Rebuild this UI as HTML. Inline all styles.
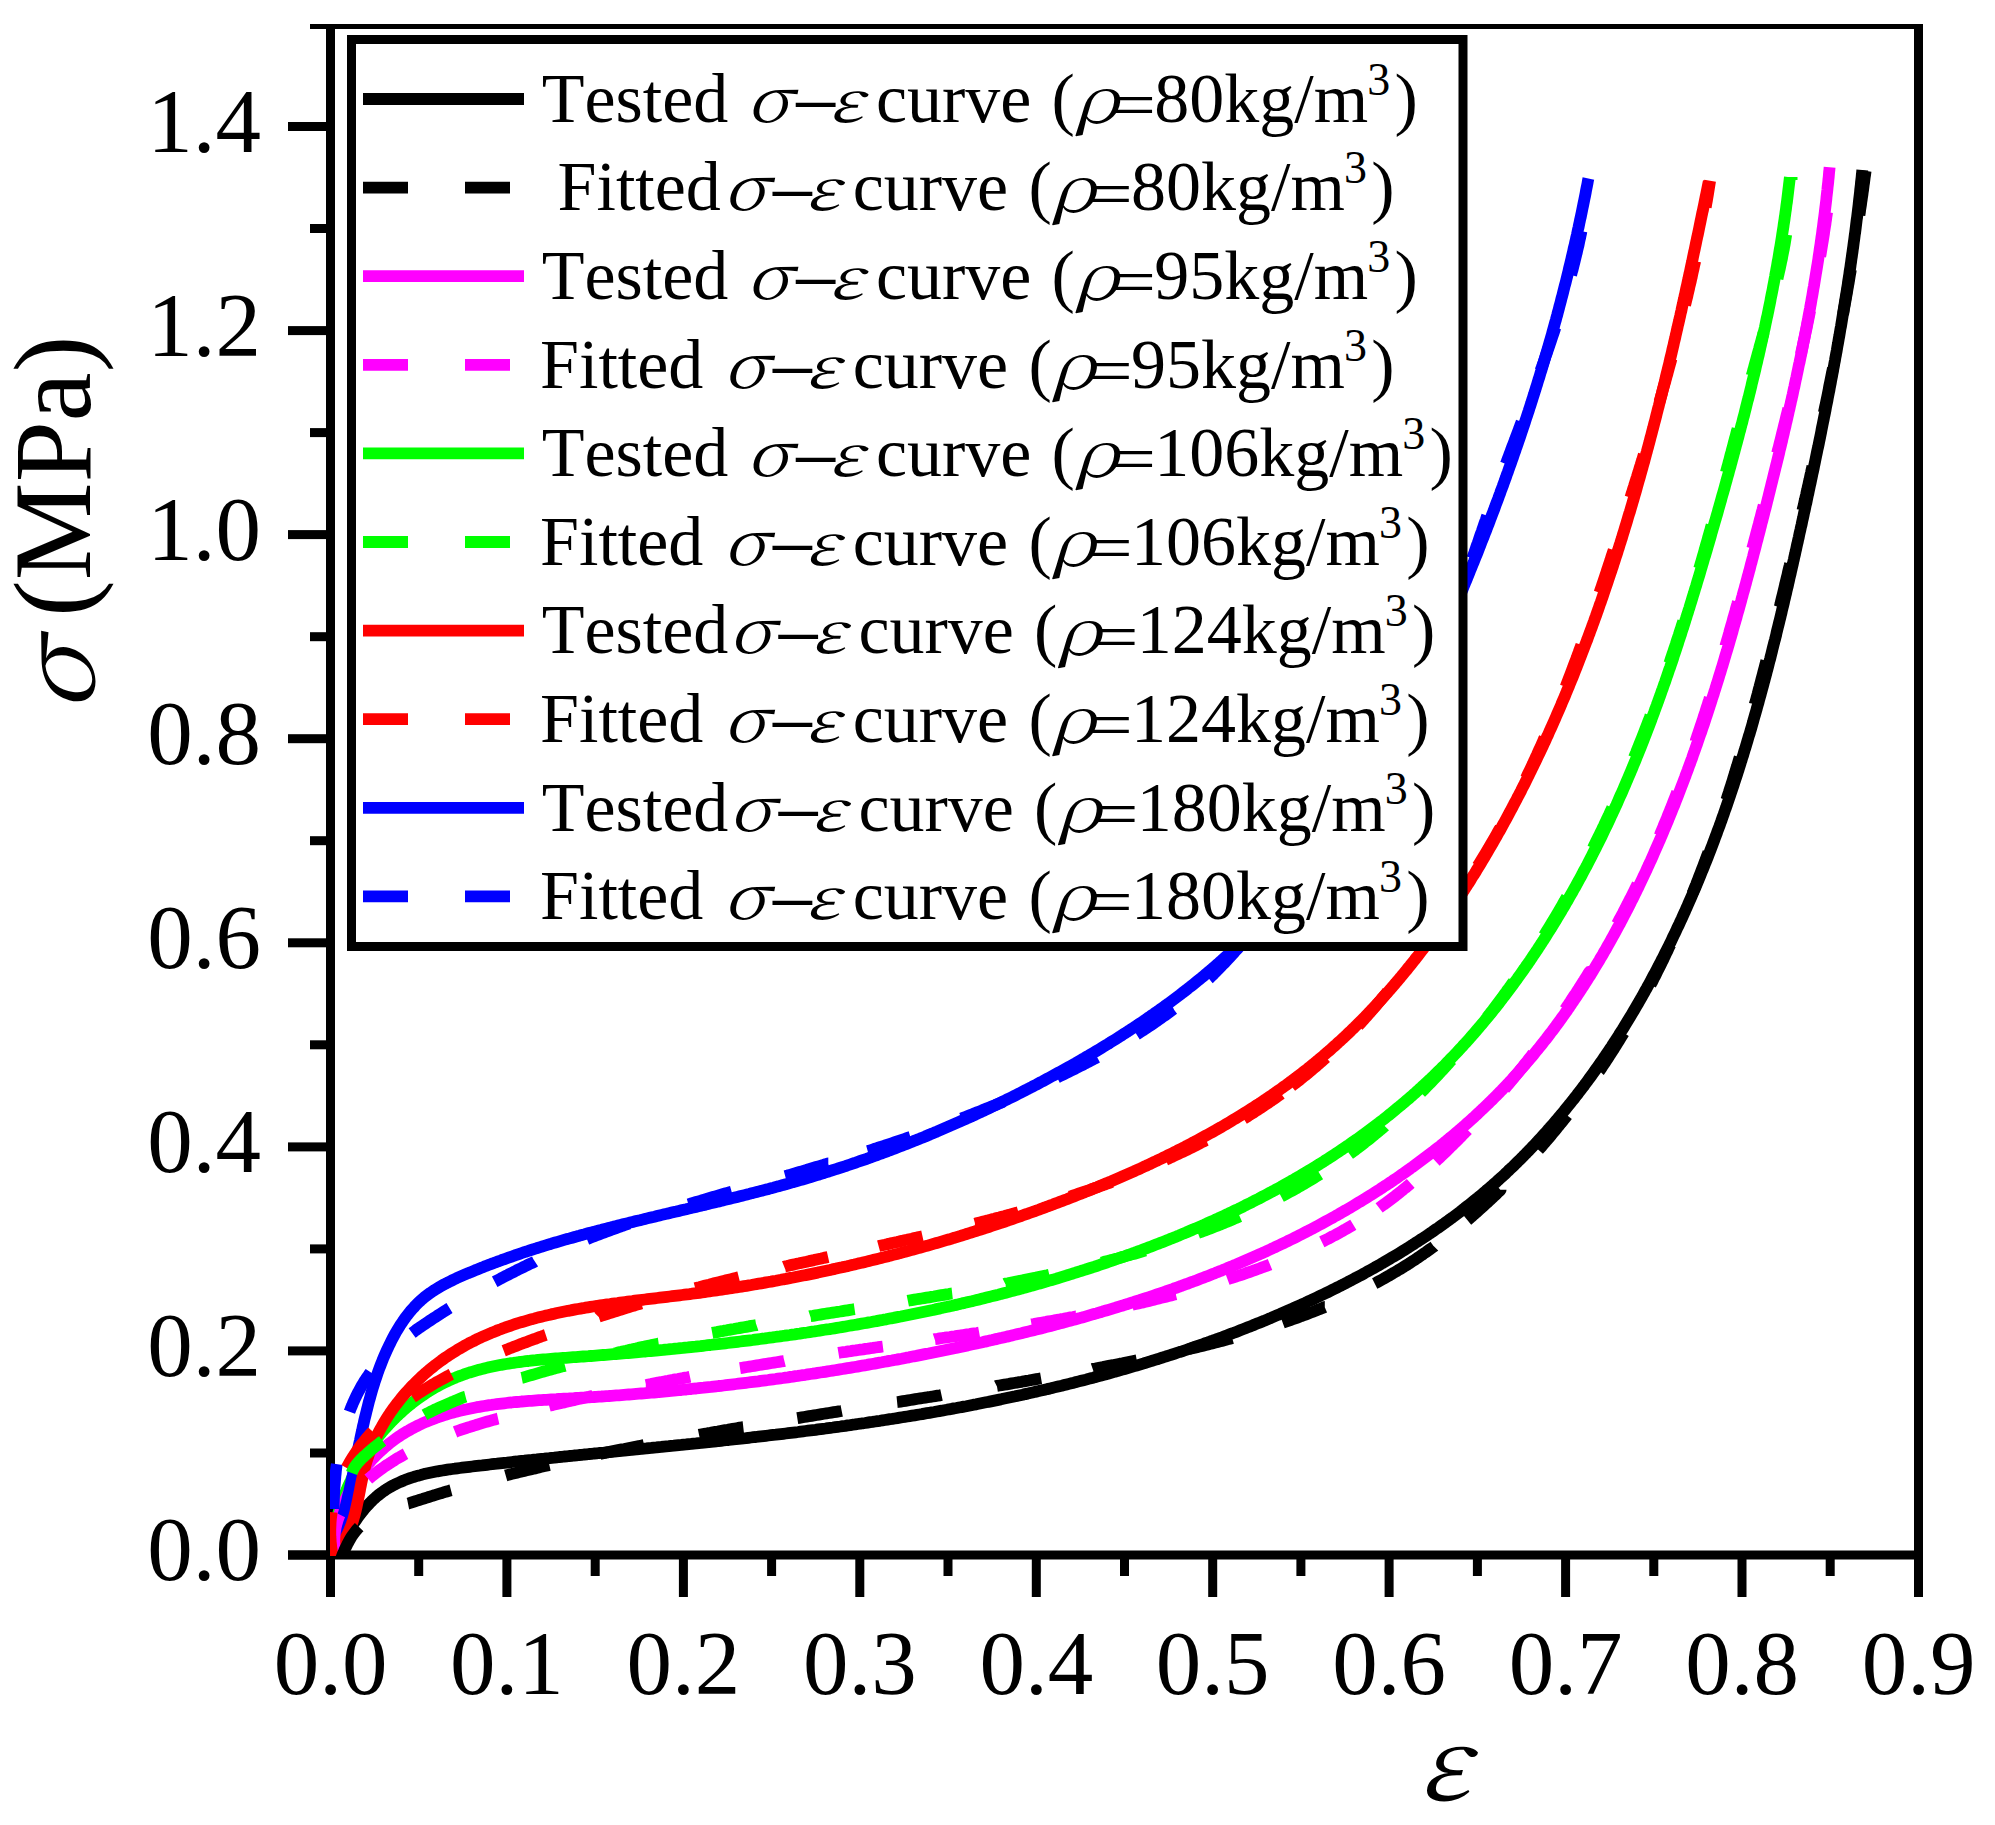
<!DOCTYPE html><html><head><meta charset="utf-8"><title>stress-strain</title><style>html,body{margin:0;padding:0;background:#fff;}svg{display:block}text{font-kerning:none;}</style></head><body>
<svg width="1995" height="1825" viewBox="0 0 1995 1825">
<rect width="1995" height="1825" fill="#fff"/>
<defs><clipPath id="pa"><rect x="330" y="24" width="1590" height="1532"/></clipPath></defs>
<g fill="#000">
<rect x="310" y="24" width="1613" height="5"/>
<rect x="326" y="24" width="9" height="1573"/>
<rect x="1914" y="24" width="9" height="1535.5"/>
<rect x="288" y="1550.5" width="1635" height="9"/>
<rect x="288" y="1550.5" width="38" height="9"/>
<rect x="310" y="1448.5" width="16" height="9"/>
<rect x="288" y="1346.4" width="38" height="9"/>
<rect x="310" y="1244.4" width="16" height="9"/>
<rect x="288" y="1142.4" width="38" height="9"/>
<rect x="310" y="1040.3" width="16" height="9"/>
<rect x="288" y="938.3" width="38" height="9"/>
<rect x="310" y="836.2" width="16" height="9"/>
<rect x="288" y="734.2" width="38" height="9"/>
<rect x="310" y="632.2" width="16" height="9"/>
<rect x="288" y="530.1" width="38" height="9"/>
<rect x="310" y="428.1" width="16" height="9"/>
<rect x="288" y="326.1" width="38" height="9"/>
<rect x="310" y="224.0" width="16" height="9"/>
<rect x="288" y="122.0" width="38" height="9"/>
<rect x="326.0" y="1555" width="9" height="42"/>
<rect x="414.2" y="1555" width="9" height="21"/>
<rect x="502.4" y="1555" width="9" height="42"/>
<rect x="590.7" y="1555" width="9" height="21"/>
<rect x="678.9" y="1555" width="9" height="42"/>
<rect x="767.1" y="1555" width="9" height="21"/>
<rect x="855.3" y="1555" width="9" height="42"/>
<rect x="943.5" y="1555" width="9" height="21"/>
<rect x="1031.8" y="1555" width="9" height="42"/>
<rect x="1120.0" y="1555" width="9" height="21"/>
<rect x="1208.2" y="1555" width="9" height="42"/>
<rect x="1296.4" y="1555" width="9" height="21"/>
<rect x="1384.6" y="1555" width="9" height="42"/>
<rect x="1472.9" y="1555" width="9" height="21"/>
<rect x="1561.1" y="1555" width="9" height="42"/>
<rect x="1649.3" y="1555" width="9" height="21"/>
<rect x="1737.5" y="1555" width="9" height="42"/>
<rect x="1825.7" y="1555" width="9" height="21"/>
<rect x="1914.0" y="1555" width="9" height="42"/>
</g>
<g clip-path="url(#pa)" fill="none" stroke-width="11.8" stroke-linejoin="round" stroke-linecap="butt">
<path stroke="#000000" d="M332.9 1558.2L334.2 1556.0L335.4 1553.9L336.6 1551.7L337.9 1549.5L339.1 1547.3L340.4 1545.2L341.6 1543.0L342.9 1540.8L344.1 1538.7L345.4 1536.5L346.7 1534.4L348.0 1532.2L349.3 1530.1L350.7 1528.0L352.0 1525.9L353.4 1523.8L354.8 1521.8L356.3 1519.7L357.7 1517.7L359.2 1515.6L360.7 1513.7L362.2 1511.7L363.8 1509.7L365.4 1507.8L367.1 1505.9L368.8 1504.1L370.5 1502.3L372.3 1500.5L374.1 1498.8L376.0 1497.1L377.9 1495.5L379.8 1494.0L381.8 1492.5L383.9 1491.0L386.0 1489.6L388.1 1488.3L390.2 1487.0L392.4 1485.8L394.6 1484.6L396.9 1483.5L399.1 1482.5L401.4 1481.5L403.7 1480.5L406.1 1479.6L408.4 1478.7L410.8 1477.9L413.2 1477.2L415.6 1476.4L418.0 1475.7L420.4 1475.1L422.8 1474.4L425.2 1473.8L427.7 1473.3L430.1 1472.8L432.6 1472.3L435.0 1471.8L437.5 1471.3L440.0 1470.9L442.4 1470.5L444.9 1470.1L447.4 1469.7L449.8 1469.3L452.3 1469.0L454.8 1468.7L457.3 1468.3L459.8 1468.0L462.2 1467.7L464.7 1467.4L467.2 1467.1L469.7 1466.8L472.2 1466.5L474.7 1466.2L477.2 1465.9L479.6 1465.6L482.1 1465.4L484.6 1465.1L487.1 1464.8L489.6 1464.5L492.1 1464.2L494.6 1463.9L497.0 1463.7L499.5 1463.4L502.0 1463.1L504.5 1462.8L507.0 1462.6L509.5 1462.3L512.0 1462.0L514.5 1461.7L516.9 1461.5L519.4 1461.2L521.9 1460.9L524.4 1460.7L526.9 1460.4L529.4 1460.1L531.9 1459.9L534.4 1459.6L536.8 1459.4L539.3 1459.1L541.8 1458.8L544.3 1458.6L546.8 1458.3L549.3 1458.1L551.8 1457.8L554.3 1457.6L556.8 1457.3L559.3 1457.0L561.7 1456.8L564.2 1456.5L566.7 1456.3L569.2 1456.0L571.7 1455.8L574.2 1455.5L576.7 1455.3L579.2 1455.0L581.7 1454.8L584.1 1454.5L586.6 1454.3L589.1 1454.0L591.6 1453.8L594.1 1453.5L596.6 1453.3L599.1 1453.0L601.6 1452.8L604.1 1452.6L606.6 1452.3L609.0 1452.1L611.5 1451.8L614.0 1451.6L616.5 1451.3L619.0 1451.1L621.5 1450.8L624.0 1450.6L626.5 1450.3L629.0 1450.1L631.5 1449.9L634.0 1449.6L636.4 1449.4L638.9 1449.1L641.4 1448.9L643.9 1448.6L646.4 1448.4L648.9 1448.1L651.4 1447.9L653.9 1447.6L656.4 1447.4L658.9 1447.1L661.3 1446.9L663.8 1446.6L666.3 1446.4L668.8 1446.2L671.3 1445.9L673.8 1445.7L676.3 1445.4L678.8 1445.1L681.3 1444.9L683.8 1444.6L686.2 1444.4L688.7 1444.1L691.2 1443.9L693.7 1443.6L696.2 1443.4L698.7 1443.1L701.2 1442.9L703.7 1442.6L706.2 1442.3L708.6 1442.1L711.1 1441.8L713.6 1441.6L716.1 1441.3L718.6 1441.0L721.1 1440.8L723.6 1440.5L726.1 1440.2L728.6 1440.0L731.0 1439.7L733.5 1439.4L736.0 1439.2L738.5 1438.9L741.0 1438.6L743.5 1438.3L746.0 1438.1L748.5 1437.8L750.9 1437.5L753.4 1437.2L755.9 1437.0L758.4 1436.7L760.9 1436.4L763.4 1436.1L765.9 1435.8L768.3 1435.5L770.8 1435.2L773.3 1434.9L775.8 1434.7L778.3 1434.4L780.8 1434.1L783.3 1433.8L785.7 1433.5L788.2 1433.2L790.7 1432.9L793.2 1432.6L795.7 1432.3L798.2 1432.0L800.6 1431.6L803.1 1431.3L805.6 1431.0L808.1 1430.7L810.6 1430.4L813.1 1430.1L815.5 1429.8L818.0 1429.4L820.5 1429.1L823.0 1428.8L825.5 1428.5L827.9 1428.1L830.4 1427.8L832.9 1427.5L835.4 1427.1L837.9 1426.8L840.3 1426.5L842.8 1426.1L845.3 1425.8L847.8 1425.4L850.3 1425.1L852.7 1424.7L855.2 1424.4L857.7 1424.0L860.2 1423.7L862.6 1423.3L865.1 1423.0L867.6 1422.6L870.1 1422.2L872.5 1421.9L875.0 1421.5L877.5 1421.1L880.0 1420.8L882.4 1420.4L884.9 1420.0L887.4 1419.6L889.9 1419.2L892.3 1418.9L894.8 1418.5L897.3 1418.1L899.8 1417.7L902.2 1417.3L904.7 1416.9L907.2 1416.5L909.6 1416.1L912.1 1415.7L914.6 1415.3L917.0 1414.9L919.5 1414.5L922.0 1414.1L924.4 1413.6L926.9 1413.2L929.4 1412.8L931.8 1412.4L934.3 1412.0L936.8 1411.5L939.2 1411.1L941.7 1410.7L944.2 1410.2L946.6 1409.8L949.1 1409.3L951.6 1408.9L954.0 1408.4L956.5 1408.0L958.9 1407.5L961.4 1407.1L963.9 1406.6L966.3 1406.2L968.8 1405.7L971.2 1405.2L973.7 1404.7L976.2 1404.3L978.6 1403.8L981.1 1403.3L983.5 1402.8L986.0 1402.3L988.4 1401.9L990.9 1401.4L993.3 1400.9L995.8 1400.4L998.2 1399.9L1000.7 1399.4L1003.1 1398.8L1005.6 1398.3L1008.0 1397.8L1010.5 1397.3L1012.9 1396.8L1015.4 1396.3L1017.8 1395.7L1020.3 1395.2L1022.7 1394.7L1025.2 1394.1L1027.6 1393.6L1030.0 1393.0L1032.5 1392.5L1034.9 1391.9L1037.4 1391.4L1039.8 1390.8L1042.2 1390.3L1044.7 1389.7L1047.1 1389.1L1049.6 1388.6L1052.0 1388.0L1054.4 1387.4L1056.9 1386.8L1059.3 1386.2L1061.7 1385.7L1064.2 1385.1L1066.6 1384.5L1069.0 1383.9L1071.4 1383.3L1073.9 1382.7L1076.3 1382.0L1078.7 1381.4L1081.1 1380.8L1083.6 1380.2L1086.0 1379.6L1088.4 1378.9L1090.8 1378.3L1093.3 1377.7L1095.7 1377.0L1098.1 1376.4L1100.5 1375.7L1102.9 1375.1L1105.3 1374.4L1107.8 1373.8L1110.2 1373.1L1112.6 1372.4L1115.0 1371.7L1117.4 1371.1L1119.8 1370.4L1122.2 1369.7L1124.6 1369.0L1127.0 1368.3L1129.4 1367.6L1131.8 1366.9L1134.2 1366.2L1136.6 1365.5L1139.0 1364.8L1141.4 1364.1L1143.8 1363.4L1146.2 1362.6L1148.6 1361.9L1151.0 1361.2L1153.4 1360.4L1155.8 1359.7L1158.2 1359.0L1160.6 1358.2L1162.9 1357.4L1165.3 1356.7L1167.7 1355.9L1170.1 1355.2L1172.5 1354.4L1174.9 1353.6L1177.2 1352.8L1179.6 1352.0L1182.0 1351.3L1184.4 1350.5L1186.7 1349.7L1189.1 1348.9L1191.5 1348.1L1193.8 1347.2L1196.2 1346.4L1198.6 1345.6L1200.9 1344.8L1203.3 1344.0L1205.6 1343.1L1208.0 1342.3L1210.4 1341.4L1212.7 1340.6L1215.1 1339.7L1217.4 1338.9L1219.8 1338.0L1222.1 1337.2L1224.5 1336.3L1226.8 1335.4L1229.1 1334.5L1231.5 1333.6L1233.8 1332.8L1236.2 1331.9L1238.5 1331.0L1240.8 1330.1L1243.2 1329.1L1245.5 1328.2L1247.8 1327.3L1250.1 1326.4L1252.5 1325.5L1254.8 1324.5L1257.1 1323.6L1259.4 1322.7L1261.8 1321.7L1264.1 1320.8L1266.4 1319.8L1268.7 1318.8L1271.0 1317.9L1273.3 1316.9L1275.6 1315.9L1277.9 1314.9L1280.2 1314.0L1282.5 1313.0L1284.8 1312.0L1287.1 1311.0L1289.4 1310.0L1291.7 1309.0L1294.0 1307.9L1296.2 1306.9L1298.5 1305.9L1300.8 1304.9L1303.1 1303.8L1305.4 1302.8L1307.6 1301.7L1309.9 1300.7L1312.2 1299.6L1314.4 1298.6L1316.7 1297.5L1319.0 1296.4L1321.2 1295.3L1323.5 1294.2L1325.7 1293.2L1328.0 1292.1L1330.2 1291.0L1332.5 1289.8L1334.7 1288.7L1336.9 1287.6L1339.2 1286.5L1341.4 1285.4L1343.6 1284.2L1345.9 1283.1L1348.1 1281.9L1350.3 1280.8L1352.5 1279.6L1354.7 1278.4L1356.9 1277.3L1359.1 1276.1L1361.4 1274.9L1363.6 1273.7L1365.7 1272.5L1367.9 1271.3L1370.1 1270.1L1372.3 1268.9L1374.5 1267.7L1376.7 1266.4L1378.9 1265.2L1381.0 1263.9L1383.2 1262.7L1385.4 1261.4L1387.5 1260.2L1389.7 1258.9L1391.8 1257.6L1394.0 1256.3L1396.1 1255.1L1398.3 1253.8L1400.4 1252.5L1402.5 1251.1L1404.7 1249.8L1406.8 1248.5L1408.9 1247.2L1411.0 1245.8L1413.1 1244.5L1415.2 1243.1L1417.3 1241.8L1419.4 1240.4L1421.5 1239.0L1423.6 1237.7L1425.7 1236.3L1427.8 1234.9L1429.8 1233.5L1431.9 1232.1L1434.0 1230.6L1436.0 1229.2L1438.1 1227.8L1440.1 1226.4L1442.2 1224.9L1444.2 1223.5L1446.2 1222.0L1448.3 1220.5L1450.3 1219.0L1452.3 1217.6L1454.3 1216.1L1456.3 1214.6L1458.3 1213.1L1460.3 1211.6L1462.3 1210.0L1464.3 1208.5L1466.2 1207.0L1468.2 1205.4L1470.2 1203.9L1472.1 1202.3L1474.1 1200.7L1476.0 1199.2L1478.0 1197.6L1479.9 1196.0L1481.8 1194.4L1483.7 1192.8L1485.6 1191.2L1487.5 1189.5L1489.4 1187.9L1491.3 1186.3L1493.2 1184.6L1495.1 1183.0L1497.0 1181.3L1498.8 1179.6L1500.7 1177.9L1502.5 1176.3L1504.4 1174.6L1506.2 1172.9L1508.0 1171.1L1509.8 1169.4L1511.7 1167.7L1513.5 1166.0L1515.3 1164.2L1517.0 1162.5L1518.8 1160.7L1520.6 1159.0L1522.4 1157.2L1524.1 1155.4L1525.9 1153.6L1527.6 1151.8L1529.4 1150.0L1531.1 1148.2L1532.8 1146.4L1534.6 1144.6L1536.3 1142.8L1538.0 1140.9L1539.7 1139.1L1541.4 1137.3L1543.0 1135.4L1544.7 1133.5L1546.4 1131.7L1548.0 1129.8L1549.7 1127.9L1551.3 1126.0L1553.0 1124.2L1554.6 1122.3L1556.2 1120.4L1557.9 1118.5L1559.5 1116.5L1561.1 1114.6L1562.7 1112.7L1564.3 1110.8L1565.9 1108.8L1567.4 1106.9L1569.0 1104.9L1570.6 1103.0L1572.1 1101.0L1573.7 1099.1L1575.2 1097.1L1576.8 1095.1L1578.3 1093.1L1579.8 1091.2L1581.3 1089.2L1582.8 1087.2L1584.4 1085.2L1585.8 1083.2L1587.3 1081.2L1588.8 1079.1L1590.3 1077.1L1591.8 1075.1L1593.2 1073.1L1594.7 1071.0L1596.1 1069.0L1597.6 1066.9L1599.0 1064.9L1600.4 1062.8L1601.9 1060.8L1603.3 1058.7L1604.7 1056.7L1606.1 1054.6L1607.5 1052.5L1608.9 1050.4L1610.3 1048.3L1611.7 1046.3L1613.0 1044.2L1614.4 1042.1L1615.8 1040.0L1617.1 1037.9L1618.5 1035.8L1619.8 1033.6L1621.1 1031.5L1622.5 1029.4L1623.8 1027.3L1625.1 1025.2L1626.4 1023.0L1627.7 1020.9L1629.0 1018.7L1630.3 1016.6L1631.6 1014.5L1632.9 1012.3L1634.1 1010.2L1635.4 1008.0L1636.7 1005.8L1637.9 1003.7L1639.2 1001.5L1640.4 999.3L1641.7 997.2L1642.9 995.0L1644.1 992.8L1645.3 990.6L1646.6 988.4L1647.8 986.2L1649.0 984.0L1650.2 981.8L1651.4 979.6L1652.5 977.4L1653.7 975.2L1654.9 973.0L1656.1 970.8L1657.2 968.6L1658.4 966.4L1659.5 964.2L1660.7 961.9L1661.8 959.7L1663.0 957.5L1664.1 955.2L1665.2 953.0L1666.3 950.8L1667.5 948.5L1668.6 946.3L1669.7 944.0L1670.8 941.8L1671.9 939.5L1672.9 937.3L1674.0 935.0L1675.1 932.8L1676.2 930.5L1677.2 928.2L1678.3 926.0L1679.4 923.7L1680.4 921.4L1681.5 919.2L1682.5 916.9L1683.5 914.6L1684.6 912.3L1685.6 910.0L1686.6 907.8L1687.6 905.5L1688.6 903.2L1689.6 900.9L1690.6 898.6L1691.6 896.3L1692.6 894.0L1693.6 891.7L1694.6 889.4L1695.6 887.1L1696.5 884.8L1697.5 882.5L1698.5 880.2L1699.4 877.9L1700.4 875.5L1701.3 873.2L1702.2 870.9L1703.2 868.6L1704.1 866.3L1705.0 863.9L1706.0 861.6L1706.9 859.3L1707.8 857.0L1708.7 854.6L1709.6 852.3L1710.5 850.0L1711.4 847.6L1712.3 845.3L1713.2 842.9L1714.1 840.6L1714.9 838.3L1715.8 835.9L1716.7 833.6L1717.5 831.2L1718.4 828.9L1719.3 826.5L1720.1 824.2L1721.0 821.8L1721.8 819.5L1722.6 817.1L1723.5 814.7L1724.3 812.4L1725.1 810.0L1726.0 807.6L1726.8 805.3L1727.6 802.9L1728.4 800.6L1729.2 798.2L1730.0 795.8L1730.8 793.4L1731.6 791.1L1732.4 788.7L1733.2 786.3L1734.0 783.9L1734.7 781.6L1735.5 779.2L1736.3 776.8L1737.1 774.4L1737.8 772.0L1738.6 769.7L1739.3 767.3L1740.1 764.9L1740.8 762.5L1741.6 760.1L1742.3 757.7L1743.1 755.3L1743.8 752.9L1744.5 750.5L1745.3 748.1L1746.0 745.8L1746.7 743.4L1747.4 741.0L1748.1 738.6L1748.8 736.2L1749.6 733.8L1750.3 731.4L1751.0 729.0L1751.7 726.6L1752.4 724.2L1753.1 721.7L1753.7 719.3L1754.4 716.9L1755.1 714.5L1755.8 712.1L1756.5 709.7L1757.1 707.3L1757.8 704.9L1758.5 702.5L1759.1 700.1L1759.8 697.7L1760.5 695.2L1761.1 692.8L1761.8 690.4L1762.4 688.0L1763.1 685.6L1763.7 683.2L1764.4 680.7L1765.0 678.3L1765.7 675.9L1766.3 673.5L1766.9 671.1L1767.6 668.6L1768.2 666.2L1768.8 663.8L1769.4 661.4L1770.1 659.0L1770.7 656.5L1771.3 654.1L1771.9 651.7L1772.5 649.2L1773.1 646.8L1773.7 644.4L1774.3 642.0L1775.0 639.5L1775.6 637.1L1776.2 634.7L1776.7 632.2L1777.3 629.8L1777.9 627.4L1778.5 625.0L1779.1 622.5L1779.7 620.1L1780.3 617.7L1780.9 615.2L1781.5 612.8L1782.0 610.4L1782.6 607.9L1783.2 605.5L1783.8 603.1L1784.3 600.6L1784.9 598.2L1785.5 595.7L1786.1 593.3L1786.6 590.9L1787.2 588.4L1787.8 586.0L1788.3 583.6L1788.9 581.1L1789.4 578.7L1790.0 576.2L1790.6 573.8L1791.1 571.4L1791.7 568.9L1792.2 566.5L1792.8 564.0L1793.3 561.6L1793.9 559.2L1794.4 556.7L1795.0 554.3L1795.5 551.8L1796.1 549.4L1796.6 546.9L1797.1 544.5L1797.7 542.1L1798.2 539.6L1798.8 537.2L1799.3 534.7L1799.8 532.3L1800.4 529.8L1800.9 527.4L1801.5 525.0L1802.0 522.5L1802.5 520.1L1803.1 517.6L1803.6 515.2L1804.1 512.7L1804.7 510.3L1805.2 507.8L1805.7 505.4L1806.3 503.0L1806.8 500.5L1807.3 498.1L1807.8 495.6L1808.4 493.2L1808.9 490.7L1809.4 488.3L1809.9 485.8L1810.5 483.4L1811.0 480.9L1811.5 478.5L1812.0 476.0L1812.5 473.6L1813.1 471.1L1813.6 468.7L1814.1 466.2L1814.6 463.8L1815.1 461.3L1815.6 458.9L1816.1 456.4L1816.6 454.0L1817.1 451.5L1817.6 449.1L1818.2 446.6L1818.7 444.2L1819.2 441.7L1819.7 439.3L1820.2 436.8L1820.7 434.4L1821.2 431.9L1821.6 429.5L1822.1 427.0L1822.6 424.6L1823.1 422.1L1823.6 419.7L1824.1 417.2L1824.6 414.8L1825.1 412.3L1825.6 409.8L1826.0 407.4L1826.5 404.9L1827.0 402.5L1827.5 400.0L1827.9 397.6L1828.4 395.1L1828.9 392.6L1829.4 390.2L1829.8 387.7L1830.3 385.3L1830.8 382.8L1831.2 380.4L1831.7 377.9L1832.2 375.4L1832.6 373.0L1833.1 370.5L1833.5 368.1L1834.0 365.6L1834.4 363.1L1834.9 360.7L1835.3 358.2L1835.8 355.7L1836.2 353.3L1836.7 350.8L1837.1 348.4L1837.5 345.9L1838.0 343.4L1838.4 341.0L1838.8 338.5L1839.3 336.0L1839.7 333.6L1840.1 331.1L1840.5 328.6L1841.0 326.2L1841.4 323.7L1841.8 321.2L1842.2 318.8L1842.6 316.3L1843.0 313.8L1843.4 311.4L1843.8 308.9L1844.2 306.4L1844.6 304.0L1845.0 301.5L1845.4 299.0L1845.8 296.5L1846.2 294.1L1846.6 291.6L1847.0 289.1L1847.4 286.7L1847.8 284.2L1848.1 281.7L1848.5 279.2L1848.9 276.8L1849.3 274.3L1849.6 271.8L1850.0 269.3L1850.4 266.9L1850.7 264.4L1851.1 261.9L1851.4 259.4L1851.8 256.9L1852.1 254.5L1852.5 252.0L1852.8 249.5L1853.2 247.0L1853.5 244.6L1853.8 242.1L1854.2 239.6L1854.5 237.1L1854.8 234.6L1855.2 232.2L1855.5 229.7L1855.8 227.2L1856.1 224.7L1856.4 222.2L1856.7 219.7L1857.1 217.3L1857.4 214.8L1857.7 212.3L1858.0 209.8L1858.3 207.3L1858.6 204.8L1858.8 202.4L1859.1 199.9L1859.4 197.4L1859.7 194.9L1860.0 192.4L1860.2 189.9L1860.5 187.4L1860.8 184.9L1861.0 182.5L1861.3 180.0L1861.6 177.5L1861.8 175.0L1862.1 172.5L1862.3 170.0"/>
<path stroke="#00ff00" d="M330.8 1555.1L331.0 1552.6L331.2 1550.1L331.5 1547.6L331.7 1545.1L332.1 1542.6L332.4 1540.2L332.8 1537.7L333.2 1535.2L333.6 1532.8L334.1 1530.3L334.6 1527.8L335.2 1525.4L335.7 1523.0L336.3 1520.5L336.9 1518.1L337.6 1515.7L338.3 1513.3L339.0 1510.9L339.7 1508.5L340.5 1506.1L341.3 1503.7L342.1 1501.4L343.0 1499.0L343.9 1496.7L344.8 1494.3L345.7 1492.0L346.7 1489.7L347.6 1487.4L348.7 1485.1L349.7 1482.8L350.8 1480.6L351.8 1478.3L353.0 1476.1L354.1 1473.9L355.3 1471.6L356.4 1469.4L357.7 1467.3L358.9 1465.1L360.2 1462.9L361.4 1460.8L362.8 1458.6L364.1 1456.5L365.4 1454.4L366.8 1452.3L368.2 1450.3L369.6 1448.2L371.1 1446.2L372.6 1444.1L374.1 1442.1L375.6 1440.1L377.1 1438.2L378.7 1436.2L380.3 1434.3L381.9 1432.3L383.5 1430.4L385.1 1428.6L386.8 1426.7L388.5 1424.9L390.2 1423.0L392.0 1421.2L393.7 1419.4L395.5 1417.7L397.3 1415.9L399.1 1414.2L401.0 1412.5L402.8 1410.9L404.7 1409.2L406.6 1407.6L408.5 1406.0L410.5 1404.4L412.4 1402.8L414.4 1401.3L416.4 1399.8L418.4 1398.3L420.5 1396.9L422.5 1395.5L424.6 1394.1L426.7 1392.7L428.8 1391.3L430.9 1390.0L433.1 1388.7L435.2 1387.5L437.4 1386.3L439.6 1385.1L441.8 1383.9L444.1 1382.8L446.3 1381.7L448.6 1380.6L450.9 1379.6L453.2 1378.6L455.5 1377.7L457.8 1376.7L460.1 1375.8L462.5 1375.0L464.9 1374.1L467.2 1373.3L469.6 1372.5L472.0 1371.8L474.4 1371.1L476.8 1370.4L479.2 1369.7L481.6 1369.1L484.1 1368.5L486.5 1367.9L488.9 1367.3L491.4 1366.8L493.8 1366.3L496.3 1365.8L498.7 1365.3L501.2 1364.8L503.7 1364.4L506.1 1364.0L508.6 1363.6L511.1 1363.2L513.5 1362.9L516.0 1362.5L518.5 1362.2L521.0 1361.8L523.5 1361.5L525.9 1361.2L528.4 1361.0L530.9 1360.7L533.4 1360.4L535.9 1360.2L538.4 1359.9L540.9 1359.7L543.4 1359.5L545.9 1359.3L548.4 1359.1L550.9 1358.9L553.4 1358.7L555.8 1358.5L558.3 1358.3L560.8 1358.1L563.3 1357.9L565.8 1357.8L568.3 1357.6L570.8 1357.4L573.3 1357.2L575.8 1357.1L578.3 1356.9L580.8 1356.7L583.3 1356.5L585.8 1356.3L588.3 1356.2L590.8 1356.0L593.3 1355.8L595.8 1355.6L598.3 1355.4L600.8 1355.2L603.3 1355.0L605.8 1354.8L608.3 1354.6L610.8 1354.4L613.3 1354.2L615.7 1354.0L618.2 1353.8L620.7 1353.6L623.2 1353.4L625.7 1353.2L628.2 1353.0L630.7 1352.8L633.2 1352.6L635.7 1352.4L638.2 1352.1L640.7 1351.9L643.2 1351.7L645.7 1351.5L648.2 1351.2L650.7 1351.0L653.1 1350.8L655.6 1350.6L658.1 1350.3L660.6 1350.1L663.1 1349.9L665.6 1349.6L668.1 1349.4L670.6 1349.1L673.1 1348.9L675.6 1348.6L678.1 1348.4L680.5 1348.1L683.0 1347.9L685.5 1347.6L688.0 1347.4L690.5 1347.1L693.0 1346.8L695.5 1346.6L698.0 1346.3L700.5 1346.1L702.9 1345.8L705.4 1345.5L707.9 1345.2L710.4 1345.0L712.9 1344.7L715.4 1344.4L717.9 1344.1L720.4 1343.8L722.8 1343.6L725.3 1343.3L727.8 1343.0L730.3 1342.7L732.8 1342.4L735.3 1342.1L737.8 1341.8L740.2 1341.5L742.7 1341.2L745.2 1340.9L747.7 1340.6L750.2 1340.3L752.7 1340.0L755.1 1339.6L757.6 1339.3L760.1 1339.0L762.6 1338.7L765.1 1338.4L767.6 1338.0L770.0 1337.7L772.5 1337.4L775.0 1337.0L777.5 1336.7L780.0 1336.4L782.4 1336.0L784.9 1335.7L787.4 1335.3L789.9 1335.0L792.3 1334.6L794.8 1334.3L797.3 1333.9L799.8 1333.6L802.3 1333.2L804.7 1332.8L807.2 1332.5L809.7 1332.1L812.2 1331.7L814.6 1331.4L817.1 1331.0L819.6 1330.6L822.1 1330.2L824.5 1329.8L827.0 1329.4L829.5 1329.1L831.9 1328.7L834.4 1328.3L836.9 1327.9L839.4 1327.5L841.8 1327.1L844.3 1326.7L846.8 1326.2L849.2 1325.8L851.7 1325.4L854.2 1325.0L856.6 1324.6L859.1 1324.1L861.6 1323.7L864.0 1323.3L866.5 1322.9L869.0 1322.4L871.4 1322.0L873.9 1321.5L876.3 1321.1L878.8 1320.6L881.3 1320.2L883.7 1319.7L886.2 1319.3L888.6 1318.8L891.1 1318.3L893.6 1317.9L896.0 1317.4L898.5 1316.9L900.9 1316.5L903.4 1316.0L905.8 1315.5L908.3 1315.0L910.8 1314.5L913.2 1314.0L915.7 1313.5L918.1 1313.0L920.6 1312.5L923.0 1312.0L925.5 1311.5L927.9 1311.0L930.4 1310.5L932.8 1310.0L935.3 1309.4L937.7 1308.9L940.2 1308.4L942.6 1307.8L945.0 1307.3L947.5 1306.8L949.9 1306.2L952.4 1305.7L954.8 1305.1L957.3 1304.6L959.7 1304.0L962.1 1303.4L964.6 1302.9L967.0 1302.3L969.4 1301.7L971.9 1301.2L974.3 1300.6L976.7 1300.0L979.2 1299.4L981.6 1298.8L984.0 1298.2L986.5 1297.6L988.9 1297.0L991.3 1296.4L993.8 1295.8L996.2 1295.2L998.6 1294.6L1001.0 1293.9L1003.5 1293.3L1005.9 1292.7L1008.3 1292.1L1010.7 1291.4L1013.1 1290.8L1015.6 1290.1L1018.0 1289.5L1020.4 1288.8L1022.8 1288.2L1025.2 1287.5L1027.6 1286.8L1030.0 1286.2L1032.4 1285.5L1034.9 1284.8L1037.3 1284.1L1039.7 1283.5L1042.1 1282.8L1044.5 1282.1L1046.9 1281.4L1049.3 1280.7L1051.7 1280.0L1054.1 1279.3L1056.5 1278.6L1058.9 1277.8L1061.3 1277.1L1063.7 1276.4L1066.1 1275.7L1068.5 1274.9L1070.9 1274.2L1073.2 1273.4L1075.6 1272.7L1078.0 1271.9L1080.4 1271.2L1082.8 1270.4L1085.2 1269.7L1087.6 1268.9L1089.9 1268.1L1092.3 1267.3L1094.7 1266.6L1097.1 1265.8L1099.4 1265.0L1101.8 1264.2L1104.2 1263.4L1106.6 1262.6L1108.9 1261.8L1111.3 1261.0L1113.7 1260.1L1116.0 1259.3L1118.4 1258.5L1120.7 1257.7L1123.1 1256.8L1125.5 1256.0L1127.8 1255.1L1130.2 1254.3L1132.5 1253.4L1134.9 1252.6L1137.2 1251.7L1139.6 1250.9L1141.9 1250.0L1144.3 1249.1L1146.6 1248.2L1148.9 1247.3L1151.3 1246.4L1153.6 1245.5L1156.0 1244.6L1158.3 1243.7L1160.6 1242.8L1162.9 1241.9L1165.3 1241.0L1167.6 1240.1L1169.9 1239.1L1172.2 1238.2L1174.6 1237.3L1176.9 1236.3L1179.2 1235.4L1181.5 1234.4L1183.8 1233.4L1186.1 1232.5L1188.4 1231.5L1190.7 1230.5L1193.0 1229.5L1195.3 1228.6L1197.6 1227.6L1199.9 1226.6L1202.2 1225.6L1204.5 1224.6L1206.8 1223.5L1209.1 1222.5L1211.4 1221.5L1213.6 1220.5L1215.9 1219.4L1218.2 1218.4L1220.5 1217.3L1222.7 1216.3L1225.0 1215.2L1227.3 1214.2L1229.5 1213.1L1231.8 1212.0L1234.1 1210.9L1236.3 1209.8L1238.6 1208.8L1240.8 1207.7L1243.1 1206.6L1245.3 1205.4L1247.5 1204.3L1249.8 1203.2L1252.0 1202.1L1254.2 1200.9L1256.5 1199.8L1258.7 1198.7L1260.9 1197.5L1263.1 1196.3L1265.3 1195.2L1267.6 1194.0L1269.8 1192.8L1272.0 1191.6L1274.2 1190.5L1276.4 1189.3L1278.6 1188.1L1280.8 1186.9L1283.0 1185.6L1285.1 1184.4L1287.3 1183.2L1289.5 1182.0L1291.7 1180.7L1293.8 1179.5L1296.0 1178.2L1298.2 1177.0L1300.3 1175.7L1302.5 1174.4L1304.6 1173.2L1306.8 1171.9L1308.9 1170.6L1311.1 1169.3L1313.2 1168.0L1315.3 1166.7L1317.5 1165.4L1319.6 1164.0L1321.7 1162.7L1323.8 1161.4L1325.9 1160.0L1328.0 1158.7L1330.2 1157.3L1332.2 1156.0L1334.3 1154.6L1336.4 1153.2L1338.5 1151.8L1340.6 1150.4L1342.7 1149.0L1344.7 1147.6L1346.8 1146.2L1348.9 1144.8L1350.9 1143.4L1353.0 1141.9L1355.0 1140.5L1357.1 1139.1L1359.1 1137.6L1361.1 1136.1L1363.2 1134.7L1365.2 1133.2L1367.2 1131.7L1369.2 1130.2L1371.2 1128.7L1373.2 1127.2L1375.2 1125.7L1377.2 1124.2L1379.2 1122.7L1381.2 1121.1L1383.2 1119.6L1385.1 1118.1L1387.1 1116.5L1389.0 1115.0L1391.0 1113.4L1392.9 1111.8L1394.9 1110.2L1396.8 1108.6L1398.7 1107.0L1400.7 1105.4L1402.6 1103.8L1404.5 1102.2L1406.4 1100.6L1408.3 1099.0L1410.2 1097.3L1412.1 1095.7L1413.9 1094.0L1415.8 1092.4L1417.7 1090.7L1419.5 1089.0L1421.4 1087.3L1423.2 1085.6L1425.1 1083.9L1426.9 1082.2L1428.7 1080.5L1430.6 1078.8L1432.4 1077.1L1434.2 1075.3L1436.0 1073.6L1437.8 1071.9L1439.5 1070.1L1441.3 1068.3L1443.1 1066.6L1444.9 1064.8L1446.6 1063.0L1448.4 1061.2L1450.1 1059.4L1451.8 1057.6L1453.6 1055.8L1455.3 1054.0L1457.0 1052.2L1458.7 1050.4L1460.4 1048.5L1462.1 1046.7L1463.8 1044.8L1465.5 1043.0L1467.2 1041.1L1468.8 1039.3L1470.5 1037.4L1472.1 1035.5L1473.8 1033.6L1475.4 1031.7L1477.1 1029.8L1478.7 1027.9L1480.3 1026.0L1481.9 1024.1L1483.5 1022.2L1485.1 1020.3L1486.7 1018.3L1488.3 1016.4L1489.9 1014.5L1491.5 1012.5L1493.0 1010.6L1494.6 1008.6L1496.2 1006.7L1497.7 1004.7L1499.3 1002.7L1500.8 1000.7L1502.3 998.8L1503.8 996.8L1505.4 994.8L1506.9 992.8L1508.4 990.8L1509.9 988.8L1511.4 986.8L1512.9 984.8L1514.3 982.7L1515.8 980.7L1517.3 978.7L1518.7 976.7L1520.2 974.6L1521.6 972.6L1523.1 970.5L1524.5 968.5L1525.9 966.4L1527.4 964.4L1528.8 962.3L1530.2 960.3L1531.6 958.2L1533.0 956.1L1534.4 954.0L1535.8 951.9L1537.2 949.9L1538.5 947.8L1539.9 945.7L1541.3 943.6L1542.6 941.5L1544.0 939.4L1545.3 937.3L1546.7 935.1L1548.0 933.0L1549.3 930.9L1550.7 928.8L1552.0 926.7L1553.3 924.5L1554.6 922.4L1555.9 920.3L1557.2 918.1L1558.5 916.0L1559.8 913.8L1561.1 911.7L1562.3 909.5L1563.6 907.4L1564.9 905.2L1566.1 903.0L1567.4 900.9L1568.6 898.7L1569.8 896.5L1571.1 894.3L1572.3 892.2L1573.5 890.0L1574.8 887.8L1576.0 885.6L1577.2 883.4L1578.4 881.2L1579.6 879.0L1580.8 876.8L1582.0 874.6L1583.1 872.4L1584.3 870.2L1585.5 868.0L1586.7 865.8L1587.8 863.6L1589.0 861.3L1590.1 859.1L1591.3 856.9L1592.4 854.7L1593.5 852.4L1594.7 850.2L1595.8 848.0L1596.9 845.7L1598.0 843.5L1599.1 841.3L1600.3 839.0L1601.4 836.8L1602.5 834.5L1603.5 832.3L1604.6 830.0L1605.7 827.7L1606.8 825.5L1607.9 823.2L1608.9 821.0L1610.0 818.7L1611.0 816.4L1612.1 814.2L1613.1 811.9L1614.2 809.6L1615.2 807.3L1616.3 805.1L1617.3 802.8L1618.3 800.5L1619.3 798.2L1620.3 795.9L1621.4 793.6L1622.4 791.3L1623.4 789.0L1624.4 786.7L1625.4 784.4L1626.3 782.1L1627.3 779.8L1628.3 777.5L1629.3 775.2L1630.3 772.9L1631.2 770.6L1632.2 768.3L1633.1 766.0L1634.1 763.7L1635.1 761.4L1636.0 759.1L1636.9 756.7L1637.9 754.4L1638.8 752.1L1639.7 749.8L1640.7 747.4L1641.6 745.1L1642.5 742.8L1643.4 740.5L1644.3 738.1L1645.2 735.8L1646.1 733.5L1647.0 731.1L1647.9 728.8L1648.8 726.5L1649.7 724.1L1650.6 721.8L1651.5 719.4L1652.3 717.1L1653.2 714.7L1654.1 712.4L1654.9 710.0L1655.8 707.7L1656.7 705.3L1657.5 703.0L1658.4 700.6L1659.2 698.3L1660.1 695.9L1660.9 693.6L1661.7 691.2L1662.6 688.9L1663.4 686.5L1664.2 684.1L1665.1 681.8L1665.9 679.4L1666.7 677.0L1667.5 674.7L1668.3 672.3L1669.1 669.9L1670.0 667.6L1670.8 665.2L1671.6 662.8L1672.4 660.5L1673.2 658.1L1673.9 655.7L1674.7 653.3L1675.5 651.0L1676.3 648.6L1677.1 646.2L1677.9 643.8L1678.6 641.4L1679.4 639.1L1680.2 636.7L1681.0 634.3L1681.7 631.9L1682.5 629.5L1683.3 627.2L1684.0 624.8L1684.8 622.4L1685.5 620.0L1686.3 617.6L1687.0 615.2L1687.8 612.8L1688.5 610.4L1689.3 608.1L1690.0 605.7L1690.7 603.3L1691.5 600.9L1692.2 598.5L1692.9 596.1L1693.7 593.7L1694.4 591.3L1695.1 588.9L1695.9 586.5L1696.6 584.1L1697.3 581.7L1698.0 579.3L1698.8 576.9L1699.5 574.5L1700.2 572.1L1700.9 569.7L1701.6 567.3L1702.3 564.9L1703.0 562.5L1703.7 560.1L1704.4 557.7L1705.2 555.3L1705.9 552.9L1706.6 550.5L1707.3 548.1L1708.0 545.7L1708.7 543.3L1709.4 540.9L1710.1 538.5L1710.8 536.1L1711.4 533.7L1712.1 531.3L1712.8 528.9L1713.5 526.5L1714.2 524.1L1714.9 521.7L1715.6 519.3L1716.3 516.9L1717.0 514.5L1717.7 512.1L1718.3 509.7L1719.0 507.3L1719.7 504.8L1720.4 502.4L1721.1 500.0L1721.7 497.6L1722.4 495.2L1723.1 492.8L1723.8 490.4L1724.5 488.0L1725.1 485.6L1725.8 483.2L1726.5 480.7L1727.1 478.3L1727.8 475.9L1728.5 473.5L1729.1 471.1L1729.8 468.7L1730.5 466.3L1731.1 463.9L1731.8 461.4L1732.4 459.0L1733.1 456.6L1733.7 454.2L1734.4 451.8L1735.0 449.4L1735.7 446.9L1736.3 444.5L1737.0 442.1L1737.6 439.7L1738.3 437.3L1738.9 434.9L1739.5 432.4L1740.2 430.0L1740.8 427.6L1741.4 425.2L1742.1 422.8L1742.7 420.3L1743.3 417.9L1744.0 415.5L1744.6 413.1L1745.2 410.6L1745.8 408.2L1746.4 405.8L1747.0 403.4L1747.6 400.9L1748.3 398.5L1748.9 396.1L1749.5 393.6L1750.1 391.2L1750.7 388.8L1751.3 386.4L1751.8 383.9L1752.4 381.5L1753.0 379.1L1753.6 376.6L1754.2 374.2L1754.8 371.8L1755.4 369.3L1755.9 366.9L1756.5 364.4L1757.1 362.0L1757.6 359.6L1758.2 357.1L1758.8 354.7L1759.3 352.3L1759.9 349.8L1760.4 347.4L1761.0 344.9L1761.5 342.5L1762.1 340.0L1762.6 337.6L1763.2 335.2L1763.7 332.7L1764.2 330.3L1764.8 327.8L1765.3 325.4L1765.8 322.9L1766.3 320.5L1766.8 318.0L1767.4 315.6L1767.9 313.1L1768.4 310.7L1768.9 308.2L1769.4 305.8L1769.9 303.3L1770.4 300.9L1770.8 298.4L1771.3 296.0L1771.8 293.5L1772.3 291.1L1772.8 288.6L1773.2 286.1L1773.7 283.7L1774.2 281.2L1774.6 278.8L1775.1 276.3L1775.5 273.8L1776.0 271.4L1776.4 268.9L1776.9 266.4L1777.3 264.0L1777.7 261.5L1778.2 259.1L1778.6 256.6L1779.0 254.1L1779.4 251.7L1779.8 249.2L1780.3 246.7L1780.7 244.2L1781.1 241.8L1781.5 239.3L1781.9 236.8L1782.2 234.4L1782.6 231.9L1783.0 229.4L1783.4 226.9L1783.7 224.5L1784.1 222.0L1784.5 219.5L1784.8 217.0L1785.2 214.6L1785.5 212.1L1785.9 209.6L1786.2 207.1L1786.5 204.6L1786.9 202.2L1787.2 199.7L1787.5 197.2L1787.8 194.7L1788.1 192.2L1788.4 189.7L1788.7 187.3L1789.0 184.8L1789.3 182.3L1789.6 179.8L1789.9 177.3"/>
<path stroke="#ff00ff" d="M330.7 1557.5L330.8 1555.0L331.0 1552.5L331.3 1550.0L331.6 1547.5L331.9 1545.0L332.2 1542.6L332.6 1540.1L333.1 1537.6L333.6 1535.2L334.1 1532.7L334.6 1530.3L335.2 1527.8L335.9 1525.4L336.5 1523.0L337.2 1520.6L338.0 1518.2L338.8 1515.9L339.6 1513.5L340.5 1511.1L341.3 1508.8L342.3 1506.5L343.3 1504.2L344.3 1501.9L345.3 1499.6L346.4 1497.4L347.5 1495.1L348.6 1492.9L349.8 1490.7L351.0 1488.5L352.3 1486.3L353.6 1484.2L354.9 1482.1L356.3 1480.0L357.6 1477.9L359.1 1475.8L360.5 1473.8L362.0 1471.8L363.5 1469.8L365.0 1467.8L366.6 1465.9L368.2 1463.9L369.9 1462.0L371.5 1460.2L373.2 1458.3L375.0 1456.5L376.7 1454.7L378.5 1453.0L380.3 1451.3L382.2 1449.6L384.0 1447.9L385.9 1446.3L387.9 1444.7L389.8 1443.1L391.8 1441.6L393.8 1440.1L395.8 1438.6L397.9 1437.2L399.9 1435.8L402.0 1434.4L404.2 1433.1L406.3 1431.8L408.5 1430.6L410.7 1429.3L412.9 1428.1L415.1 1427.0L417.3 1425.9L419.6 1424.8L421.8 1423.7L424.1 1422.7L426.4 1421.7L428.7 1420.8L431.1 1419.8L433.4 1418.9L435.7 1418.1L438.1 1417.2L440.5 1416.4L442.8 1415.6L445.2 1414.9L447.6 1414.1L450.0 1413.4L452.4 1412.8L454.8 1412.1L457.3 1411.5L459.7 1410.9L462.1 1410.3L464.6 1409.7L467.0 1409.2L469.5 1408.7L471.9 1408.2L474.4 1407.7L476.8 1407.2L479.3 1406.8L481.8 1406.4L484.2 1406.0L486.7 1405.6L489.2 1405.2L491.6 1404.9L494.1 1404.5L496.6 1404.2L499.1 1403.9L501.6 1403.6L504.1 1403.3L506.5 1403.0L509.0 1402.7L511.5 1402.5L514.0 1402.2L516.5 1402.0L519.0 1401.8L521.5 1401.5L524.0 1401.3L526.5 1401.1L529.0 1400.9L531.5 1400.8L534.0 1400.6L536.5 1400.4L538.9 1400.2L541.4 1400.1L543.9 1399.9L546.4 1399.8L548.9 1399.6L551.4 1399.4L553.9 1399.3L556.4 1399.2L558.9 1399.0L561.4 1398.9L563.9 1398.7L566.4 1398.6L568.9 1398.5L571.4 1398.3L573.9 1398.2L576.4 1398.0L578.9 1397.9L581.4 1397.7L583.9 1397.6L586.4 1397.4L588.9 1397.3L591.4 1397.1L593.9 1397.0L596.4 1396.8L598.9 1396.6L601.4 1396.5L603.9 1396.3L606.4 1396.1L608.9 1396.0L611.4 1395.8L613.9 1395.6L616.4 1395.4L618.9 1395.3L621.4 1395.1L623.9 1394.9L626.4 1394.7L628.8 1394.5L631.3 1394.3L633.8 1394.1L636.3 1393.9L638.8 1393.7L641.3 1393.5L643.8 1393.3L646.3 1393.1L648.8 1392.9L651.3 1392.7L653.8 1392.5L656.3 1392.3L658.8 1392.0L661.3 1391.8L663.8 1391.6L666.2 1391.4L668.7 1391.1L671.2 1390.9L673.7 1390.7L676.2 1390.4L678.7 1390.2L681.2 1390.0L683.7 1389.7L686.2 1389.5L688.7 1389.2L691.2 1389.0L693.6 1388.7L696.1 1388.5L698.6 1388.2L701.1 1387.9L703.6 1387.7L706.1 1387.4L708.6 1387.1L711.1 1386.9L713.6 1386.6L716.0 1386.3L718.5 1386.0L721.0 1385.8L723.5 1385.5L726.0 1385.2L728.5 1384.9L731.0 1384.6L733.4 1384.3L735.9 1384.0L738.4 1383.7L740.9 1383.4L743.4 1383.1L745.9 1382.8L748.3 1382.5L750.8 1382.2L753.3 1381.9L755.8 1381.6L758.3 1381.3L760.8 1380.9L763.2 1380.6L765.7 1380.3L768.2 1380.0L770.7 1379.6L773.2 1379.3L775.6 1379.0L778.1 1378.6L780.6 1378.3L783.1 1378.0L785.6 1377.6L788.0 1377.3L790.5 1376.9L793.0 1376.6L795.5 1376.2L797.9 1375.9L800.4 1375.5L802.9 1375.1L805.4 1374.8L807.8 1374.4L810.3 1374.0L812.8 1373.7L815.3 1373.3L817.7 1372.9L820.2 1372.5L822.7 1372.2L825.2 1371.8L827.6 1371.4L830.1 1371.0L832.6 1370.6L835.0 1370.2L837.5 1369.8L840.0 1369.4L842.5 1369.0L844.9 1368.6L847.4 1368.2L849.9 1367.8L852.3 1367.4L854.8 1367.0L857.3 1366.6L859.7 1366.1L862.2 1365.7L864.7 1365.3L867.1 1364.9L869.6 1364.4L872.1 1364.0L874.5 1363.6L877.0 1363.1L879.5 1362.7L881.9 1362.3L884.4 1361.8L886.8 1361.4L889.3 1360.9L891.8 1360.5L894.2 1360.0L896.7 1359.6L899.2 1359.1L901.6 1358.7L904.1 1358.2L906.5 1357.7L909.0 1357.3L911.4 1356.8L913.9 1356.3L916.4 1355.9L918.8 1355.4L921.3 1354.9L923.7 1354.4L926.2 1353.9L928.6 1353.5L931.1 1353.0L933.5 1352.5L936.0 1352.0L938.5 1351.5L940.9 1351.0L943.4 1350.5L945.8 1350.0L948.3 1349.5L950.7 1349.0L953.2 1348.5L955.6 1348.0L958.1 1347.4L960.5 1346.9L963.0 1346.4L965.4 1345.9L967.9 1345.4L970.3 1344.8L972.7 1344.3L975.2 1343.8L977.6 1343.2L980.1 1342.7L982.5 1342.2L985.0 1341.6L987.4 1341.1L989.8 1340.5L992.3 1340.0L994.7 1339.4L997.2 1338.9L999.6 1338.3L1002.0 1337.8L1004.5 1337.2L1006.9 1336.6L1009.4 1336.1L1011.8 1335.5L1014.2 1334.9L1016.7 1334.3L1019.1 1333.7L1021.5 1333.2L1024.0 1332.6L1026.4 1332.0L1028.8 1331.4L1031.3 1330.8L1033.7 1330.2L1036.1 1329.6L1038.5 1329.0L1041.0 1328.4L1043.4 1327.8L1045.8 1327.1L1048.2 1326.5L1050.7 1325.9L1053.1 1325.3L1055.5 1324.6L1057.9 1324.0L1060.3 1323.4L1062.8 1322.7L1065.2 1322.1L1067.6 1321.4L1070.0 1320.8L1072.4 1320.1L1074.8 1319.5L1077.3 1318.8L1079.7 1318.1L1082.1 1317.5L1084.5 1316.8L1086.9 1316.1L1089.3 1315.4L1091.7 1314.7L1094.1 1314.0L1096.5 1313.4L1098.9 1312.7L1101.3 1312.0L1103.7 1311.2L1106.1 1310.5L1108.5 1309.8L1110.9 1309.1L1113.3 1308.4L1115.7 1307.7L1118.1 1306.9L1120.5 1306.2L1122.9 1305.5L1125.3 1304.7L1127.7 1304.0L1130.1 1303.2L1132.4 1302.5L1134.8 1301.7L1137.2 1300.9L1139.6 1300.2L1142.0 1299.4L1144.3 1298.6L1146.7 1297.8L1149.1 1297.1L1151.5 1296.3L1153.8 1295.5L1156.2 1294.7L1158.6 1293.9L1161.0 1293.1L1163.3 1292.3L1165.7 1291.4L1168.1 1290.6L1170.4 1289.8L1172.8 1289.0L1175.1 1288.1L1177.5 1287.3L1179.8 1286.4L1182.2 1285.6L1184.5 1284.7L1186.9 1283.9L1189.2 1283.0L1191.6 1282.1L1193.9 1281.3L1196.3 1280.4L1198.6 1279.5L1201.0 1278.6L1203.3 1277.7L1205.6 1276.8L1208.0 1275.9L1210.3 1275.0L1212.6 1274.1L1215.0 1273.2L1217.3 1272.2L1219.6 1271.3L1221.9 1270.4L1224.2 1269.4L1226.6 1268.5L1228.9 1267.5L1231.2 1266.6L1233.5 1265.6L1235.8 1264.7L1238.1 1263.7L1240.4 1262.7L1242.7 1261.7L1245.0 1260.7L1247.3 1259.7L1249.6 1258.7L1251.9 1257.7L1254.2 1256.7L1256.5 1255.7L1258.7 1254.7L1261.0 1253.7L1263.3 1252.6L1265.6 1251.6L1267.9 1250.5L1270.1 1249.5L1272.4 1248.4L1274.7 1247.4L1276.9 1246.3L1279.2 1245.2L1281.4 1244.2L1283.7 1243.1L1286.0 1242.0L1288.2 1240.9L1290.5 1239.8L1292.7 1238.7L1294.9 1237.6L1297.2 1236.4L1299.4 1235.3L1301.6 1234.2L1303.9 1233.0L1306.1 1231.9L1308.3 1230.8L1310.5 1229.6L1312.8 1228.4L1315.0 1227.3L1317.2 1226.1L1319.4 1224.9L1321.6 1223.7L1323.8 1222.5L1326.0 1221.3L1328.2 1220.1L1330.4 1218.9L1332.6 1217.7L1334.7 1216.5L1336.9 1215.3L1339.1 1214.0L1341.3 1212.8L1343.4 1211.5L1345.6 1210.3L1347.8 1209.0L1349.9 1207.8L1352.1 1206.5L1354.2 1205.2L1356.4 1203.9L1358.5 1202.6L1360.7 1201.3L1362.8 1200.0L1364.9 1198.7L1367.1 1197.4L1369.2 1196.1L1371.3 1194.8L1373.4 1193.4L1375.5 1192.1L1377.6 1190.7L1379.7 1189.4L1381.8 1188.0L1383.9 1186.6L1386.0 1185.3L1388.1 1183.9L1390.2 1182.5L1392.3 1181.1L1394.3 1179.7L1396.4 1178.3L1398.5 1176.9L1400.5 1175.4L1402.6 1174.0L1404.6 1172.6L1406.7 1171.1L1408.7 1169.7L1410.7 1168.2L1412.8 1166.8L1414.8 1165.3L1416.8 1163.8L1418.8 1162.3L1420.8 1160.8L1422.8 1159.3L1424.8 1157.8L1426.8 1156.3L1428.8 1154.8L1430.8 1153.3L1432.8 1151.8L1434.8 1150.2L1436.7 1148.7L1438.7 1147.1L1440.7 1145.6L1442.6 1144.0L1444.5 1142.4L1446.5 1140.8L1448.4 1139.2L1450.3 1137.6L1452.3 1136.0L1454.2 1134.4L1456.1 1132.8L1458.0 1131.2L1459.9 1129.6L1461.8 1127.9L1463.7 1126.3L1465.6 1124.6L1467.4 1123.0L1469.3 1121.3L1471.2 1119.6L1473.0 1118.0L1474.9 1116.3L1476.7 1114.6L1478.5 1112.9L1480.4 1111.2L1482.2 1109.4L1484.0 1107.7L1485.8 1106.0L1487.6 1104.3L1489.4 1102.5L1491.2 1100.8L1493.0 1099.0L1494.7 1097.2L1496.5 1095.5L1498.3 1093.7L1500.0 1091.9L1501.8 1090.1L1503.5 1088.3L1505.2 1086.5L1506.9 1084.7L1508.7 1082.9L1510.4 1081.0L1512.1 1079.2L1513.8 1077.3L1515.4 1075.5L1517.1 1073.6L1518.8 1071.8L1520.4 1069.9L1522.1 1068.0L1523.7 1066.1L1525.4 1064.2L1527.0 1062.3L1528.6 1060.4L1530.2 1058.5L1531.9 1056.6L1533.5 1054.7L1535.0 1052.7L1536.6 1050.8L1538.2 1048.9L1539.8 1046.9L1541.3 1045.0L1542.9 1043.0L1544.4 1041.0L1546.0 1039.1L1547.5 1037.1L1549.0 1035.1L1550.5 1033.1L1552.1 1031.1L1553.6 1029.1L1555.1 1027.1L1556.5 1025.1L1558.0 1023.1L1559.5 1021.1L1561.0 1019.0L1562.4 1017.0L1563.9 1015.0L1565.3 1012.9L1566.8 1010.9L1568.2 1008.8L1569.6 1006.8L1571.0 1004.7L1572.4 1002.6L1573.8 1000.6L1575.2 998.5L1576.6 996.4L1578.0 994.3L1579.4 992.2L1580.8 990.1L1582.1 988.0L1583.5 985.9L1584.8 983.8L1586.2 981.7L1587.5 979.6L1588.8 977.5L1590.2 975.4L1591.5 973.2L1592.8 971.1L1594.1 969.0L1595.4 966.8L1596.7 964.7L1598.0 962.5L1599.3 960.4L1600.5 958.2L1601.8 956.1L1603.1 953.9L1604.3 951.7L1605.6 949.6L1606.8 947.4L1608.0 945.2L1609.3 943.0L1610.5 940.9L1611.7 938.7L1612.9 936.5L1614.1 934.3L1615.3 932.1L1616.5 929.9L1617.7 927.7L1618.9 925.5L1620.1 923.3L1621.2 921.1L1622.4 918.9L1623.6 916.6L1624.7 914.4L1625.9 912.2L1627.0 910.0L1628.2 907.7L1629.3 905.5L1630.4 903.3L1631.5 901.0L1632.7 898.8L1633.8 896.6L1634.9 894.3L1636.0 892.1L1637.1 889.8L1638.2 887.6L1639.2 885.3L1640.3 883.1L1641.4 880.8L1642.5 878.5L1643.5 876.3L1644.6 874.0L1645.7 871.7L1646.7 869.5L1647.7 867.2L1648.8 864.9L1649.8 862.6L1650.9 860.4L1651.9 858.1L1652.9 855.8L1653.9 853.5L1654.9 851.2L1655.9 848.9L1656.9 846.6L1657.9 844.3L1658.9 842.1L1659.9 839.8L1660.9 837.5L1661.9 835.2L1662.9 832.8L1663.8 830.5L1664.8 828.2L1665.8 825.9L1666.7 823.6L1667.7 821.3L1668.6 819.0L1669.6 816.7L1670.5 814.4L1671.5 812.0L1672.4 809.7L1673.3 807.4L1674.3 805.1L1675.2 802.7L1676.1 800.4L1677.0 798.1L1677.9 795.8L1678.8 793.4L1679.7 791.1L1680.6 788.7L1681.5 786.4L1682.4 784.1L1683.3 781.7L1684.2 779.4L1685.1 777.0L1685.9 774.7L1686.8 772.4L1687.7 770.0L1688.5 767.7L1689.4 765.3L1690.3 763.0L1691.1 760.6L1692.0 758.3L1692.8 755.9L1693.6 753.5L1694.5 751.2L1695.3 748.8L1696.1 746.5L1697.0 744.1L1697.8 741.7L1698.6 739.4L1699.4 737.0L1700.2 734.6L1701.1 732.3L1701.9 729.9L1702.7 727.5L1703.5 725.2L1704.3 722.8L1705.1 720.4L1705.8 718.0L1706.6 715.7L1707.4 713.3L1708.2 710.9L1709.0 708.5L1709.7 706.2L1710.5 703.8L1711.3 701.4L1712.0 699.0L1712.8 696.6L1713.6 694.3L1714.3 691.9L1715.1 689.5L1715.8 687.1L1716.6 684.7L1717.3 682.3L1718.1 679.9L1718.8 677.5L1719.5 675.1L1720.3 672.8L1721.0 670.4L1721.7 668.0L1722.5 665.6L1723.2 663.2L1723.9 660.8L1724.6 658.4L1725.3 656.0L1726.0 653.6L1726.8 651.2L1727.5 648.8L1728.2 646.4L1728.9 644.0L1729.6 641.6L1730.3 639.2L1731.0 636.8L1731.7 634.4L1732.4 632.0L1733.0 629.6L1733.7 627.2L1734.4 624.7L1735.1 622.3L1735.8 619.9L1736.5 617.5L1737.1 615.1L1737.8 612.7L1738.5 610.3L1739.2 607.9L1739.8 605.5L1740.5 603.1L1741.2 600.7L1741.8 598.2L1742.5 595.8L1743.1 593.4L1743.8 591.0L1744.5 588.6L1745.1 586.2L1745.8 583.8L1746.4 581.3L1747.1 578.9L1747.7 576.5L1748.4 574.1L1749.0 571.7L1749.7 569.3L1750.3 566.8L1750.9 564.4L1751.6 562.0L1752.2 559.6L1752.9 557.2L1753.5 554.7L1754.1 552.3L1754.8 549.9L1755.4 547.5L1756.0 545.1L1756.6 542.6L1757.3 540.2L1757.9 537.8L1758.5 535.4L1759.2 532.9L1759.8 530.5L1760.4 528.1L1761.0 525.7L1761.6 523.2L1762.3 520.8L1762.9 518.4L1763.5 516.0L1764.1 513.5L1764.7 511.1L1765.4 508.7L1766.0 506.3L1766.6 503.8L1767.2 501.4L1767.8 499.0L1768.4 496.6L1769.0 494.1L1769.6 491.7L1770.2 489.3L1770.8 486.9L1771.4 484.4L1772.0 482.0L1772.6 479.6L1773.2 477.1L1773.8 474.7L1774.4 472.3L1775.0 469.8L1775.6 467.4L1776.2 465.0L1776.8 462.6L1777.4 460.1L1778.0 457.7L1778.6 455.3L1779.2 452.8L1779.7 450.4L1780.3 448.0L1780.9 445.5L1781.5 443.1L1782.1 440.7L1782.6 438.2L1783.2 435.8L1783.8 433.3L1784.3 430.9L1784.9 428.5L1785.5 426.0L1786.0 423.6L1786.6 421.2L1787.2 418.7L1787.7 416.3L1788.3 413.8L1788.8 411.4L1789.4 409.0L1789.9 406.5L1790.5 404.1L1791.0 401.6L1791.6 399.2L1792.1 396.8L1792.7 394.3L1793.2 391.9L1793.7 389.4L1794.3 387.0L1794.8 384.5L1795.3 382.1L1795.8 379.6L1796.4 377.2L1796.9 374.7L1797.4 372.3L1797.9 369.8L1798.4 367.4L1798.9 364.9L1799.5 362.5L1800.0 360.0L1800.5 357.6L1801.0 355.1L1801.5 352.7L1802.0 350.2L1802.5 347.8L1802.9 345.3L1803.4 342.9L1803.9 340.4L1804.4 338.0L1804.9 335.5L1805.4 333.1L1805.8 330.6L1806.3 328.1L1806.8 325.7L1807.2 323.2L1807.7 320.8L1808.2 318.3L1808.6 315.8L1809.1 313.4L1809.5 310.9L1810.0 308.5L1810.4 306.0L1810.9 303.5L1811.3 301.1L1811.7 298.6L1812.2 296.1L1812.6 293.7L1813.0 291.2L1813.4 288.7L1813.9 286.3L1814.3 283.8L1814.7 281.3L1815.1 278.9L1815.5 276.4L1815.9 273.9L1816.3 271.5L1816.7 269.0L1817.1 266.5L1817.5 264.1L1817.9 261.6L1818.3 259.1L1818.6 256.6L1819.0 254.2L1819.4 251.7L1819.7 249.2L1820.1 246.7L1820.5 244.3L1820.8 241.8L1821.2 239.3L1821.5 236.8L1821.9 234.4L1822.2 231.9L1822.5 229.4L1822.9 226.9L1823.2 224.4L1823.5 221.9L1823.8 219.5L1824.2 217.0L1824.5 214.5L1824.8 212.0L1825.1 209.5L1825.4 207.1L1825.7 204.6L1826.0 202.1L1826.3 199.6L1826.5 197.1L1826.8 194.6L1827.1 192.1L1827.4 189.6L1827.6 187.2L1827.9 184.7L1828.2 182.2L1828.4 179.7L1828.7 177.2L1828.9 174.7L1829.1 172.2L1829.4 169.7L1829.6 167.2"/>
<path stroke="#0000ff" d="M330.4 1554.3L331.4 1552.0L332.3 1549.7L333.2 1547.3L334.0 1545.0L334.9 1542.6L335.7 1540.3L336.5 1537.9L337.3 1535.5L338.1 1533.2L338.9 1530.8L339.6 1528.4L340.3 1526.0L341.0 1523.6L341.7 1521.2L342.4 1518.8L343.1 1516.4L343.7 1514.0L344.4 1511.5L345.0 1509.1L345.6 1506.7L346.2 1504.3L346.8 1501.8L347.4 1499.4L347.9 1497.0L348.5 1494.5L349.1 1492.1L349.6 1489.7L350.2 1487.2L350.7 1484.8L351.2 1482.3L351.7 1479.9L352.3 1477.4L352.8 1475.0L353.3 1472.5L353.8 1470.1L354.3 1467.6L354.8 1465.2L355.3 1462.7L355.8 1460.3L356.3 1457.8L356.8 1455.4L357.3 1452.9L357.8 1450.5L358.3 1448.0L358.8 1445.6L359.3 1443.1L359.9 1440.7L360.4 1438.2L360.9 1435.8L361.4 1433.4L362.0 1430.9L362.5 1428.5L363.0 1426.0L363.6 1423.6L364.1 1421.2L364.7 1418.7L365.3 1416.3L365.9 1413.8L366.5 1411.4L367.1 1409.0L367.7 1406.6L368.3 1404.1L368.9 1401.7L369.6 1399.3L370.3 1396.9L370.9 1394.5L371.6 1392.1L372.3 1389.7L373.0 1387.3L373.8 1384.9L374.5 1382.5L375.3 1380.1L376.1 1377.8L376.9 1375.4L377.7 1373.0L378.5 1370.7L379.4 1368.3L380.3 1366.0L381.2 1363.6L382.1 1361.3L383.0 1359.0L384.0 1356.7L385.0 1354.4L386.0 1352.1L387.0 1349.8L388.1 1347.6L389.2 1345.3L390.3 1343.1L391.4 1340.8L392.5 1338.6L393.7 1336.4L394.9 1334.2L396.1 1332.0L397.4 1329.9L398.7 1327.7L400.0 1325.6L401.4 1323.5L402.8 1321.4L404.2 1319.4L405.7 1317.3L407.2 1315.3L408.7 1313.4L410.3 1311.4L411.9 1309.5L413.6 1307.7L415.3 1305.8L417.0 1304.0L418.8 1302.3L420.6 1300.6L422.5 1298.9L424.4 1297.3L426.4 1295.8L428.4 1294.3L430.4 1292.8L432.5 1291.4L434.6 1290.0L436.7 1288.7L438.9 1287.4L441.0 1286.2L443.2 1284.9L445.4 1283.8L447.6 1282.6L449.9 1281.5L452.1 1280.4L454.4 1279.3L456.6 1278.2L458.9 1277.2L461.2 1276.2L463.5 1275.2L465.8 1274.2L468.1 1273.2L470.4 1272.3L472.7 1271.3L475.0 1270.3L477.3 1269.4L479.6 1268.5L482.0 1267.6L484.3 1266.6L486.6 1265.7L489.0 1264.8L491.3 1263.9L493.6 1263.1L496.0 1262.2L498.3 1261.3L500.7 1260.5L503.0 1259.6L505.4 1258.8L507.7 1257.9L510.1 1257.1L512.5 1256.3L514.8 1255.4L517.2 1254.6L519.6 1253.8L521.9 1253.0L524.3 1252.2L526.7 1251.5L529.1 1250.7L531.4 1249.9L533.8 1249.1L536.2 1248.4L538.6 1247.6L541.0 1246.9L543.4 1246.1L545.8 1245.4L548.1 1244.7L550.5 1244.0L552.9 1243.2L555.3 1242.5L557.7 1241.8L560.1 1241.1L562.5 1240.4L564.9 1239.7L567.3 1239.0L569.7 1238.4L572.2 1237.7L574.6 1237.0L577.0 1236.3L579.4 1235.7L581.8 1235.0L584.2 1234.4L586.6 1233.7L589.0 1233.0L591.5 1232.4L593.9 1231.8L596.3 1231.1L598.7 1230.5L601.1 1229.9L603.6 1229.2L606.0 1228.6L608.4 1228.0L610.8 1227.4L613.2 1226.8L615.7 1226.1L618.1 1225.5L620.5 1224.9L622.9 1224.3L625.4 1223.7L627.8 1223.1L630.2 1222.5L632.7 1221.9L635.1 1221.3L637.5 1220.7L640.0 1220.2L642.4 1219.6L644.8 1219.0L647.2 1218.4L649.7 1217.8L652.1 1217.2L654.5 1216.7L657.0 1216.1L659.4 1215.5L661.8 1214.9L664.3 1214.3L666.7 1213.8L669.1 1213.2L671.6 1212.6L674.0 1212.0L676.4 1211.5L678.9 1210.9L681.3 1210.3L683.8 1209.7L686.2 1209.2L688.6 1208.6L691.1 1208.0L693.5 1207.4L695.9 1206.9L698.4 1206.3L700.8 1205.7L703.2 1205.1L705.7 1204.6L708.1 1204.0L710.5 1203.4L713.0 1202.8L715.4 1202.2L717.8 1201.6L720.3 1201.1L722.7 1200.5L725.1 1199.9L727.5 1199.3L730.0 1198.7L732.4 1198.1L734.8 1197.5L737.3 1196.9L739.7 1196.3L742.1 1195.7L744.5 1195.1L747.0 1194.5L749.4 1193.9L751.8 1193.2L754.2 1192.6L756.7 1192.0L759.1 1191.4L761.5 1190.8L763.9 1190.1L766.3 1189.5L768.8 1188.9L771.2 1188.2L773.6 1187.6L776.0 1186.9L778.4 1186.3L780.8 1185.6L783.2 1184.9L785.7 1184.3L788.1 1183.6L790.5 1182.9L792.9 1182.2L795.3 1181.6L797.7 1180.9L800.1 1180.2L802.5 1179.5L804.9 1178.8L807.3 1178.1L809.7 1177.4L812.1 1176.6L814.5 1175.9L816.9 1175.2L819.3 1174.5L821.7 1173.7L824.0 1173.0L826.4 1172.2L828.8 1171.5L831.2 1170.7L833.6 1169.9L836.0 1169.2L838.3 1168.4L840.7 1167.6L843.1 1166.8L845.5 1166.1L847.8 1165.3L850.2 1164.5L852.6 1163.7L854.9 1162.9L857.3 1162.0L859.7 1161.2L862.0 1160.4L864.4 1159.6L866.8 1158.8L869.1 1157.9L871.5 1157.1L873.8 1156.2L876.2 1155.4L878.5 1154.5L880.9 1153.7L883.2 1152.8L885.6 1151.9L887.9 1151.1L890.3 1150.2L892.6 1149.3L894.9 1148.4L897.3 1147.5L899.6 1146.6L901.9 1145.7L904.3 1144.8L906.6 1143.9L908.9 1143.0L911.3 1142.1L913.6 1141.1L915.9 1140.2L918.2 1139.3L920.5 1138.3L922.9 1137.4L925.2 1136.5L927.5 1135.5L929.8 1134.5L932.1 1133.6L934.4 1132.6L936.7 1131.7L939.0 1130.7L941.3 1129.7L943.6 1128.7L945.9 1127.7L948.2 1126.7L950.5 1125.7L952.8 1124.7L955.1 1123.7L957.4 1122.7L959.7 1121.7L961.9 1120.7L964.2 1119.7L966.5 1118.6L968.8 1117.6L971.1 1116.6L973.3 1115.5L975.6 1114.5L977.9 1113.4L980.2 1112.4L982.4 1111.3L984.7 1110.3L986.9 1109.2L989.2 1108.1L991.5 1107.0L993.7 1106.0L996.0 1104.9L998.2 1103.8L1000.5 1102.7L1002.7 1101.6L1005.0 1100.5L1007.2 1099.4L1009.5 1098.3L1011.7 1097.2L1013.9 1096.1L1016.2 1094.9L1018.4 1093.8L1020.6 1092.7L1022.9 1091.5L1025.1 1090.4L1027.3 1089.3L1029.5 1088.1L1031.8 1087.0L1034.0 1085.8L1036.2 1084.7L1038.4 1083.5L1040.6 1082.3L1042.8 1081.2L1045.0 1080.0L1047.2 1078.8L1049.4 1077.6L1051.6 1076.4L1053.8 1075.2L1056.0 1074.0L1058.2 1072.8L1060.4 1071.6L1062.6 1070.4L1064.8 1069.2L1067.0 1068.0L1069.2 1066.8L1071.4 1065.5L1073.5 1064.3L1075.7 1063.1L1077.9 1061.8L1080.0 1060.6L1082.2 1059.3L1084.4 1058.1L1086.5 1056.8L1088.7 1055.6L1090.8 1054.3L1093.0 1053.0L1095.1 1051.7L1097.3 1050.5L1099.4 1049.2L1101.6 1047.9L1103.7 1046.6L1105.8 1045.3L1108.0 1044.0L1110.1 1042.6L1112.2 1041.3L1114.4 1040.0L1116.5 1038.7L1118.6 1037.3L1120.7 1036.0L1122.8 1034.6L1124.9 1033.3L1127.0 1031.9L1129.1 1030.6L1131.2 1029.2L1133.3 1027.8L1135.4 1026.4L1137.5 1025.1L1139.5 1023.7L1141.6 1022.3L1143.7 1020.9L1145.7 1019.5L1147.8 1018.0L1149.9 1016.6L1151.9 1015.2L1154.0 1013.8L1156.0 1012.3L1158.1 1010.9L1160.1 1009.4L1162.1 1008.0L1164.2 1006.5L1166.2 1005.0L1168.2 1003.6L1170.2 1002.1L1172.2 1000.6L1174.2 999.1L1176.2 997.6L1178.2 996.1L1180.2 994.6L1182.2 993.0L1184.2 991.5L1186.2 990.0L1188.1 988.4L1190.1 986.9L1192.1 985.3L1194.0 983.8L1196.0 982.2L1197.9 980.6L1199.8 979.1L1201.8 977.5L1203.7 975.9L1205.6 974.3L1207.5 972.7L1209.5 971.1L1211.4 969.4L1213.3 967.8L1215.2 966.2L1217.0 964.5L1218.9 962.9L1220.8 961.2L1222.7 959.6L1224.5 957.9L1226.4 956.2L1228.2 954.5L1230.1 952.9L1231.9 951.2L1233.7 949.4L1235.6 947.7L1237.4 946.0L1239.2 944.3L1241.0 942.6L1242.8 940.8L1244.6 939.1L1246.4 937.3L1248.1 935.5L1249.9 933.8L1251.7 932.0L1253.4 930.2L1255.2 928.4L1256.9 926.6L1258.6 924.8L1260.4 923.0L1262.1 921.2L1263.8 919.4L1265.5 917.6L1267.2 915.7L1268.9 913.9L1270.6 912.1L1272.3 910.2L1274.0 908.4L1275.6 906.5L1277.3 904.6L1279.0 902.8L1280.6 900.9L1282.3 899.0L1283.9 897.1L1285.5 895.2L1287.1 893.3L1288.8 891.4L1290.4 889.5L1292.0 887.6L1293.6 885.6L1295.2 883.7L1296.8 881.8L1298.3 879.8L1299.9 877.9L1301.5 875.9L1303.0 874.0L1304.6 872.0L1306.1 870.1L1307.7 868.1L1309.2 866.1L1310.8 864.1L1312.3 862.2L1313.8 860.2L1315.3 858.2L1316.8 856.2L1318.3 854.2L1319.8 852.2L1321.3 850.2L1322.8 848.1L1324.2 846.1L1325.7 844.1L1327.2 842.1L1328.6 840.0L1330.1 838.0L1331.5 836.0L1333.0 833.9L1334.4 831.9L1335.8 829.8L1337.2 827.7L1338.7 825.7L1340.1 823.6L1341.5 821.6L1342.9 819.5L1344.3 817.4L1345.7 815.3L1347.0 813.2L1348.4 811.1L1349.8 809.1L1351.1 807.0L1352.5 804.9L1353.9 802.8L1355.2 800.6L1356.6 798.5L1357.9 796.4L1359.2 794.3L1360.5 792.2L1361.9 790.1L1363.2 787.9L1364.5 785.8L1365.8 783.7L1367.1 781.5L1368.4 779.4L1369.7 777.3L1371.0 775.1L1372.3 773.0L1373.5 770.8L1374.8 768.7L1376.1 766.5L1377.3 764.3L1378.6 762.2L1379.8 760.0L1381.1 757.8L1382.3 755.7L1383.6 753.5L1384.8 751.3L1386.0 749.1L1387.2 747.0L1388.4 744.8L1389.7 742.6L1390.9 740.4L1392.1 738.2L1393.3 736.0L1394.5 733.8L1395.6 731.6L1396.8 729.4L1398.0 727.2L1399.2 725.0L1400.4 722.8L1401.5 720.6L1402.7 718.3L1403.8 716.1L1405.0 713.9L1406.1 711.7L1407.3 709.5L1408.4 707.2L1409.6 705.0L1410.7 702.8L1411.8 700.6L1413.0 698.3L1414.1 696.1L1415.2 693.8L1416.3 691.6L1417.4 689.4L1418.5 687.1L1419.6 684.9L1420.7 682.6L1421.8 680.4L1422.9 678.1L1424.0 675.9L1425.1 673.6L1426.1 671.4L1427.2 669.1L1428.3 666.8L1429.3 664.6L1430.4 662.3L1431.5 660.0L1432.5 657.8L1433.6 655.5L1434.6 653.2L1435.7 651.0L1436.7 648.7L1437.7 646.4L1438.8 644.1L1439.8 641.9L1440.8 639.6L1441.9 637.3L1442.9 635.0L1443.9 632.7L1444.9 630.4L1445.9 628.1L1446.9 625.9L1447.9 623.6L1448.9 621.3L1449.9 619.0L1450.9 616.7L1451.9 614.4L1452.9 612.1L1453.9 609.8L1454.9 607.5L1455.9 605.2L1456.8 602.9L1457.8 600.6L1458.8 598.3L1459.8 596.0L1460.7 593.7L1461.7 591.4L1462.7 589.1L1463.6 586.7L1464.6 584.4L1465.5 582.1L1466.5 579.8L1467.4 577.5L1468.4 575.2L1469.3 572.9L1470.2 570.5L1471.2 568.2L1472.1 565.9L1473.0 563.6L1474.0 561.3L1474.9 558.9L1475.8 556.6L1476.8 554.3L1477.7 552.0L1478.6 549.6L1479.5 547.3L1480.4 545.0L1481.3 542.7L1482.2 540.3L1483.2 538.0L1484.1 535.7L1485.0 533.3L1485.9 531.0L1486.8 528.7L1487.7 526.3L1488.6 524.0L1489.5 521.7L1490.3 519.3L1491.2 517.0L1492.1 514.6L1493.0 512.3L1493.9 510.0L1494.8 507.6L1495.6 505.3L1496.5 502.9L1497.4 500.6L1498.3 498.2L1499.1 495.9L1500.0 493.6L1500.8 491.2L1501.7 488.9L1502.6 486.5L1503.4 484.2L1504.3 481.8L1505.1 479.5L1506.0 477.1L1506.8 474.7L1507.7 472.4L1508.5 470.0L1509.3 467.7L1510.2 465.3L1511.0 463.0L1511.8 460.6L1512.7 458.2L1513.5 455.9L1514.3 453.5L1515.1 451.2L1515.9 448.8L1516.8 446.4L1517.6 444.1L1518.4 441.7L1519.2 439.3L1520.0 437.0L1520.8 434.6L1521.6 432.2L1522.4 429.9L1523.2 427.5L1524.0 425.1L1524.8 422.7L1525.5 420.4L1526.3 418.0L1527.1 415.6L1527.9 413.2L1528.7 410.8L1529.4 408.5L1530.2 406.1L1531.0 403.7L1531.7 401.3L1532.5 398.9L1533.2 396.6L1534.0 394.2L1534.7 391.8L1535.5 389.4L1536.2 387.0L1537.0 384.6L1537.7 382.2L1538.4 379.8L1539.2 377.5L1539.9 375.1L1540.6 372.7L1541.4 370.3L1542.1 367.9L1542.8 365.5L1543.5 363.1L1544.2 360.7L1544.9 358.3L1545.6 355.9L1546.3 353.5L1547.0 351.1L1547.7 348.7L1548.4 346.3L1549.1 343.9L1549.8 341.5L1550.5 339.1L1551.2 336.7L1551.9 334.3L1552.5 331.8L1553.2 329.4L1553.9 327.0L1554.5 324.6L1555.2 322.2L1555.9 319.8L1556.5 317.4L1557.2 315.0L1557.8 312.5L1558.5 310.1L1559.1 307.7L1559.7 305.3L1560.4 302.9L1561.0 300.5L1561.6 298.0L1562.3 295.6L1562.9 293.2L1563.5 290.8L1564.1 288.3L1564.7 285.9L1565.4 283.5L1566.0 281.1L1566.6 278.6L1567.2 276.2L1567.8 273.8L1568.4 271.4L1568.9 268.9L1569.5 266.5L1570.1 264.1L1570.7 261.6L1571.3 259.2L1571.8 256.8L1572.4 254.3L1573.0 251.9L1573.5 249.5L1574.1 247.0L1574.7 244.6L1575.2 242.1L1575.8 239.7L1576.3 237.3L1576.9 234.8L1577.4 232.4L1577.9 229.9L1578.5 227.5L1579.0 225.0L1579.5 222.6L1580.0 220.2L1580.6 217.7L1581.1 215.3L1581.6 212.8L1582.1 210.4L1582.6 207.9L1583.1 205.5L1583.6 203.0L1584.1 200.6L1584.6 198.1L1585.1 195.7L1585.6 193.2L1586.0 190.7L1586.5 188.3L1587.0 185.8L1587.5 183.4L1587.9 180.9L1588.4 178.5"/>
<path stroke="#ff0000" d="M331.1 1555.4L333.0 1553.8L334.8 1552.0L336.5 1550.2L338.2 1548.4L339.8 1546.5L341.3 1544.5L342.7 1542.4L344.1 1540.3L345.4 1538.2L346.6 1536.0L347.7 1533.8L348.8 1531.5L349.8 1529.2L350.7 1526.9L351.6 1524.5L352.4 1522.2L353.2 1519.8L353.9 1517.4L354.6 1515.0L355.2 1512.6L355.8 1510.2L356.4 1507.7L356.9 1505.3L357.4 1502.8L358.0 1500.4L358.4 1497.9L358.9 1495.5L359.4 1493.0L359.9 1490.6L360.3 1488.1L360.8 1485.7L361.3 1483.2L361.8 1480.8L362.3 1478.3L362.8 1475.9L363.4 1473.4L364.0 1471.0L364.6 1468.6L365.2 1466.2L365.9 1463.7L366.6 1461.4L367.4 1459.0L368.2 1456.6L369.0 1454.2L369.9 1451.9L370.8 1449.6L371.7 1447.2L372.6 1444.9L373.6 1442.6L374.7 1440.3L375.7 1438.1L376.8 1435.8L377.9 1433.6L379.1 1431.4L380.3 1429.2L381.5 1427.0L382.7 1424.8L384.0 1422.7L385.3 1420.5L386.6 1418.4L387.9 1416.3L389.3 1414.2L390.7 1412.1L392.1 1410.1L393.6 1408.0L395.1 1406.0L396.6 1404.0L398.1 1402.1L399.7 1400.1L401.2 1398.2L402.8 1396.2L404.5 1394.3L406.1 1392.5L407.8 1390.6L409.5 1388.7L411.2 1386.9L412.9 1385.1L414.7 1383.3L416.4 1381.6L418.2 1379.8L420.1 1378.1L421.9 1376.4L423.7 1374.7L425.6 1373.1L427.5 1371.4L429.4 1369.8L431.3 1368.2L433.3 1366.7L435.2 1365.1L437.2 1363.6L439.2 1362.1L441.2 1360.6L443.3 1359.1L445.3 1357.7L447.4 1356.3L449.5 1354.9L451.6 1353.5L453.7 1352.2L455.8 1350.9L457.9 1349.6L460.1 1348.3L462.2 1347.1L464.4 1345.8L466.6 1344.6L468.8 1343.4L471.0 1342.3L473.3 1341.2L475.5 1340.0L477.7 1338.9L480.0 1337.9L482.3 1336.8L484.5 1335.8L486.8 1334.8L489.1 1333.8L491.4 1332.8L493.8 1331.9L496.1 1331.0L498.4 1330.0L500.7 1329.2L503.1 1328.3L505.4 1327.4L507.8 1326.6L510.2 1325.8L512.5 1325.0L514.9 1324.2L517.3 1323.4L519.7 1322.7L522.1 1322.0L524.5 1321.3L526.9 1320.6L529.3 1319.9L531.7 1319.2L534.1 1318.6L536.5 1317.9L538.9 1317.3L541.4 1316.7L543.8 1316.1L546.2 1315.5L548.6 1315.0L551.1 1314.4L553.5 1313.9L556.0 1313.3L558.4 1312.8L560.9 1312.3L563.3 1311.8L565.8 1311.3L568.2 1310.8L570.7 1310.4L573.1 1309.9L575.6 1309.4L578.1 1309.0L580.5 1308.6L583.0 1308.2L585.4 1307.7L587.9 1307.3L590.4 1306.9L592.9 1306.5L595.3 1306.2L597.8 1305.8L600.3 1305.4L602.7 1305.0L605.2 1304.7L607.7 1304.3L610.2 1304.0L612.6 1303.6L615.1 1303.3L617.6 1303.0L620.1 1302.6L622.6 1302.3L625.0 1302.0L627.5 1301.7L630.0 1301.4L632.5 1301.1L635.0 1300.7L637.4 1300.4L639.9 1300.1L642.4 1299.8L644.9 1299.5L647.4 1299.2L649.8 1298.9L652.3 1298.6L654.8 1298.3L657.3 1298.0L659.8 1297.7L662.3 1297.4L664.7 1297.1L667.2 1296.8L669.7 1296.5L672.2 1296.2L674.7 1295.9L677.2 1295.6L679.6 1295.3L682.1 1295.0L684.6 1294.7L687.1 1294.4L689.6 1294.1L692.0 1293.7L694.5 1293.4L697.0 1293.1L699.5 1292.8L702.0 1292.4L704.4 1292.1L706.9 1291.7L709.4 1291.4L711.9 1291.0L714.3 1290.7L716.8 1290.3L719.3 1290.0L721.8 1289.6L724.2 1289.2L726.7 1288.9L729.2 1288.5L731.6 1288.1L734.1 1287.7L736.6 1287.4L739.1 1287.0L741.5 1286.6L744.0 1286.2L746.5 1285.8L748.9 1285.4L751.4 1285.0L753.9 1284.5L756.3 1284.1L758.8 1283.7L761.3 1283.3L763.7 1282.9L766.2 1282.4L768.6 1282.0L771.1 1281.6L773.6 1281.1L776.0 1280.7L778.5 1280.2L780.9 1279.8L783.4 1279.3L785.9 1278.9L788.3 1278.4L790.8 1277.9L793.2 1277.5L795.7 1277.0L798.1 1276.5L800.6 1276.0L803.0 1275.5L805.5 1275.1L808.0 1274.6L810.4 1274.1L812.9 1273.6L815.3 1273.1L817.7 1272.6L820.2 1272.0L822.6 1271.5L825.1 1271.0L827.5 1270.5L830.0 1270.0L832.4 1269.4L834.9 1268.9L837.3 1268.3L839.7 1267.8L842.2 1267.3L844.6 1266.7L847.1 1266.2L849.5 1265.6L851.9 1265.0L854.4 1264.5L856.8 1263.9L859.2 1263.3L861.7 1262.8L864.1 1262.2L866.5 1261.6L869.0 1261.0L871.4 1260.4L873.8 1259.8L876.3 1259.2L878.7 1258.6L881.1 1258.0L883.5 1257.4L886.0 1256.8L888.4 1256.2L890.8 1255.5L893.2 1254.9L895.6 1254.3L898.1 1253.7L900.5 1253.0L902.9 1252.4L905.3 1251.7L907.7 1251.1L910.1 1250.4L912.5 1249.8L915.0 1249.1L917.4 1248.4L919.8 1247.8L922.2 1247.1L924.6 1246.4L927.0 1245.8L929.4 1245.1L931.8 1244.4L934.2 1243.7L936.6 1243.0L939.0 1242.3L941.4 1241.6L943.8 1240.9L946.2 1240.2L948.6 1239.5L951.0 1238.8L953.4 1238.0L955.8 1237.3L958.2 1236.6L960.6 1235.9L963.0 1235.1L965.4 1234.4L967.7 1233.6L970.1 1232.9L972.5 1232.1L974.9 1231.4L977.3 1230.6L979.7 1229.9L982.0 1229.1L984.4 1228.3L986.8 1227.6L989.2 1226.8L991.5 1226.0L993.9 1225.2L996.3 1224.4L998.7 1223.6L1001.0 1222.9L1003.4 1222.1L1005.8 1221.3L1008.1 1220.4L1010.5 1219.6L1012.9 1218.8L1015.2 1218.0L1017.6 1217.2L1020.0 1216.4L1022.3 1215.5L1024.7 1214.7L1027.0 1213.9L1029.4 1213.0L1031.7 1212.2L1034.1 1211.4L1036.5 1210.5L1038.8 1209.7L1041.2 1208.8L1043.5 1207.9L1045.8 1207.1L1048.2 1206.2L1050.5 1205.3L1052.9 1204.5L1055.2 1203.6L1057.6 1202.7L1059.9 1201.8L1062.2 1200.9L1064.6 1200.0L1066.9 1199.2L1069.2 1198.3L1071.6 1197.3L1073.9 1196.4L1076.2 1195.5L1078.6 1194.6L1080.9 1193.7L1083.2 1192.8L1085.5 1191.8L1087.9 1190.9L1090.2 1190.0L1092.5 1189.0L1094.8 1188.1L1097.1 1187.2L1099.4 1186.2L1101.7 1185.2L1104.0 1184.3L1106.4 1183.3L1108.7 1182.3L1111.0 1181.4L1113.3 1180.4L1115.6 1179.4L1117.9 1178.4L1120.2 1177.4L1122.4 1176.4L1124.7 1175.4L1127.0 1174.4L1129.3 1173.4L1131.6 1172.4L1133.9 1171.4L1136.2 1170.3L1138.4 1169.3L1140.7 1168.3L1143.0 1167.2L1145.3 1166.2L1147.5 1165.1L1149.8 1164.1L1152.0 1163.0L1154.3 1161.9L1156.6 1160.9L1158.8 1159.8L1161.1 1158.7L1163.3 1157.6L1165.6 1156.5L1167.8 1155.4L1170.1 1154.3L1172.3 1153.2L1174.5 1152.1L1176.8 1151.0L1179.0 1149.8L1181.2 1148.7L1183.5 1147.6L1185.7 1146.4L1187.9 1145.3L1190.1 1144.1L1192.3 1142.9L1194.5 1141.8L1196.7 1140.6L1198.9 1139.4L1201.1 1138.2L1203.3 1137.0L1205.5 1135.8L1207.7 1134.6L1209.9 1133.4L1212.1 1132.2L1214.3 1131.0L1216.4 1129.7L1218.6 1128.5L1220.8 1127.3L1223.0 1126.0L1225.1 1124.7L1227.3 1123.5L1229.4 1122.2L1231.6 1120.9L1233.7 1119.6L1235.9 1118.3L1238.0 1117.0L1240.1 1115.7L1242.3 1114.4L1244.4 1113.1L1246.5 1111.8L1248.6 1110.4L1250.7 1109.1L1252.8 1107.8L1254.9 1106.4L1257.0 1105.0L1259.1 1103.7L1261.2 1102.3L1263.3 1100.9L1265.4 1099.5L1267.4 1098.1L1269.5 1096.7L1271.6 1095.3L1273.6 1093.9L1275.7 1092.5L1277.7 1091.0L1279.8 1089.6L1281.8 1088.1L1283.8 1086.7L1285.9 1085.2L1287.9 1083.7L1289.9 1082.2L1291.9 1080.8L1293.9 1079.3L1295.9 1077.8L1297.9 1076.2L1299.9 1074.7L1301.9 1073.2L1303.8 1071.7L1305.8 1070.1L1307.8 1068.6L1309.7 1067.0L1311.7 1065.4L1313.6 1063.9L1315.5 1062.3L1317.5 1060.7L1319.4 1059.1L1321.3 1057.5L1323.2 1055.9L1325.1 1054.2L1327.0 1052.6L1328.9 1051.0L1330.8 1049.3L1332.6 1047.7L1334.5 1046.0L1336.4 1044.3L1338.2 1042.6L1340.1 1041.0L1341.9 1039.3L1343.7 1037.6L1345.6 1035.9L1347.4 1034.1L1349.2 1032.4L1351.0 1030.7L1352.8 1028.9L1354.6 1027.2L1356.4 1025.4L1358.1 1023.7L1359.9 1021.9L1361.7 1020.1L1363.4 1018.4L1365.2 1016.6L1366.9 1014.8L1368.6 1013.0L1370.4 1011.2L1372.1 1009.3L1373.8 1007.5L1375.5 1005.7L1377.2 1003.9L1378.9 1002.0L1380.6 1000.2L1382.3 998.3L1383.9 996.5L1385.6 994.6L1387.3 992.7L1388.9 990.9L1390.6 989.0L1392.2 987.1L1393.8 985.2L1395.5 983.3L1397.1 981.4L1398.7 979.5L1400.3 977.6L1401.9 975.6L1403.5 973.7L1405.1 971.8L1406.7 969.9L1408.2 967.9L1409.8 966.0L1411.4 964.0L1412.9 962.1L1414.5 960.1L1416.0 958.1L1417.6 956.2L1419.1 954.2L1420.6 952.2L1422.1 950.2L1423.7 948.2L1425.2 946.2L1426.7 944.2L1428.2 942.2L1429.7 940.2L1431.1 938.2L1432.6 936.2L1434.1 934.2L1435.6 932.1L1437.0 930.1L1438.5 928.1L1439.9 926.0L1441.4 924.0L1442.8 922.0L1444.2 919.9L1445.7 917.9L1447.1 915.8L1448.5 913.7L1449.9 911.7L1451.3 909.6L1452.7 907.5L1454.1 905.5L1455.5 903.4L1456.9 901.3L1458.2 899.2L1459.6 897.1L1461.0 895.0L1462.3 892.9L1463.7 890.8L1465.0 888.7L1466.4 886.6L1467.7 884.5L1469.1 882.4L1470.4 880.3L1471.7 878.1L1473.0 876.0L1474.4 873.9L1475.7 871.8L1477.0 869.6L1478.3 867.5L1479.6 865.4L1480.9 863.2L1482.1 861.1L1483.4 858.9L1484.7 856.8L1486.0 854.6L1487.2 852.5L1488.5 850.3L1489.8 848.1L1491.0 846.0L1492.3 843.8L1493.5 841.6L1494.7 839.5L1496.0 837.3L1497.2 835.1L1498.4 832.9L1499.7 830.8L1500.9 828.6L1502.1 826.4L1503.3 824.2L1504.5 822.0L1505.7 819.8L1506.9 817.6L1508.1 815.4L1509.3 813.2L1510.4 811.0L1511.6 808.8L1512.8 806.6L1513.9 804.4L1515.1 802.2L1516.3 800.0L1517.4 797.7L1518.6 795.5L1519.7 793.3L1520.9 791.1L1522.0 788.8L1523.1 786.6L1524.3 784.4L1525.4 782.1L1526.5 779.9L1527.6 777.7L1528.7 775.4L1529.8 773.2L1530.9 770.9L1532.0 768.7L1533.1 766.4L1534.2 764.2L1535.3 761.9L1536.4 759.7L1537.4 757.4L1538.5 755.2L1539.6 752.9L1540.6 750.7L1541.7 748.4L1542.8 746.1L1543.8 743.9L1544.9 741.6L1545.9 739.3L1546.9 737.0L1548.0 734.8L1549.0 732.5L1550.0 730.2L1551.1 727.9L1552.1 725.6L1553.1 723.3L1554.1 721.1L1555.1 718.8L1556.1 716.5L1557.1 714.2L1558.1 711.9L1559.1 709.6L1560.1 707.3L1561.1 705.0L1562.0 702.7L1563.0 700.4L1564.0 698.1L1565.0 695.8L1565.9 693.5L1566.9 691.2L1567.8 688.9L1568.8 686.6L1569.7 684.2L1570.7 681.9L1571.6 679.6L1572.6 677.3L1573.5 675.0L1574.4 672.6L1575.3 670.3L1576.3 668.0L1577.2 665.7L1578.1 663.4L1579.0 661.0L1579.9 658.7L1580.8 656.4L1581.7 654.0L1582.6 651.7L1583.5 649.4L1584.4 647.0L1585.3 644.7L1586.2 642.3L1587.1 640.0L1587.9 637.7L1588.8 635.3L1589.7 633.0L1590.5 630.6L1591.4 628.3L1592.3 625.9L1593.1 623.6L1594.0 621.2L1594.8 618.9L1595.7 616.5L1596.5 614.2L1597.3 611.8L1598.2 609.5L1599.0 607.1L1599.8 604.7L1600.7 602.4L1601.5 600.0L1602.3 597.7L1603.1 595.3L1603.9 592.9L1604.7 590.6L1605.5 588.2L1606.3 585.8L1607.1 583.5L1607.9 581.1L1608.7 578.7L1609.5 576.4L1610.3 574.0L1611.1 571.6L1611.9 569.2L1612.7 566.9L1613.4 564.5L1614.2 562.1L1615.0 559.7L1615.7 557.3L1616.5 555.0L1617.3 552.6L1618.0 550.2L1618.8 547.8L1619.5 545.4L1620.3 543.0L1621.0 540.7L1621.8 538.3L1622.5 535.9L1623.2 533.5L1624.0 531.1L1624.7 528.7L1625.4 526.3L1626.2 523.9L1626.9 521.5L1627.6 519.1L1628.3 516.7L1629.0 514.3L1629.8 512.0L1630.5 509.6L1631.2 507.2L1631.9 504.8L1632.6 502.4L1633.3 500.0L1634.0 497.6L1634.7 495.2L1635.4 492.8L1636.1 490.3L1636.8 487.9L1637.4 485.5L1638.1 483.1L1638.8 480.7L1639.5 478.3L1640.2 475.9L1640.8 473.5L1641.5 471.1L1642.2 468.7L1642.8 466.3L1643.5 463.9L1644.2 461.5L1644.8 459.0L1645.5 456.6L1646.1 454.2L1646.8 451.8L1647.4 449.4L1648.1 447.0L1648.7 444.6L1649.4 442.1L1650.0 439.7L1650.6 437.3L1651.3 434.9L1651.9 432.5L1652.5 430.1L1653.2 427.6L1653.8 425.2L1654.4 422.8L1655.1 420.4L1655.7 418.0L1656.3 415.5L1656.9 413.1L1657.5 410.7L1658.1 408.3L1658.8 405.8L1659.4 403.4L1660.0 401.0L1660.6 398.6L1661.2 396.1L1661.8 393.7L1662.4 391.3L1663.0 388.9L1663.6 386.4L1664.2 384.0L1664.8 381.6L1665.4 379.1L1665.9 376.7L1666.5 374.3L1667.1 371.8L1667.7 369.4L1668.3 367.0L1668.9 364.6L1669.5 362.1L1670.0 359.7L1670.6 357.3L1671.2 354.8L1671.8 352.4L1672.3 350.0L1672.9 347.5L1673.5 345.1L1674.0 342.6L1674.6 340.2L1675.2 337.8L1675.7 335.3L1676.3 332.9L1676.8 330.5L1677.4 328.0L1677.9 325.6L1678.5 323.2L1679.1 320.7L1679.6 318.3L1680.2 315.8L1680.7 313.4L1681.3 311.0L1681.8 308.5L1682.3 306.1L1682.9 303.6L1683.4 301.2L1684.0 298.8L1684.5 296.3L1685.1 293.9L1685.6 291.4L1686.1 289.0L1686.7 286.5L1687.2 284.1L1687.7 281.7L1688.3 279.2L1688.8 276.8L1689.3 274.3L1689.9 271.9L1690.4 269.4L1690.9 267.0L1691.4 264.6L1692.0 262.1L1692.5 259.7L1693.0 257.2L1693.5 254.8L1694.0 252.3L1694.6 249.9L1695.1 247.4L1695.6 245.0L1696.1 242.5L1696.6 240.1L1697.1 237.7L1697.7 235.2L1698.2 232.8L1698.7 230.3L1699.2 227.9L1699.7 225.4L1700.2 223.0L1700.7 220.5L1701.2 218.1L1701.7 215.6L1702.2 213.2L1702.8 210.7L1703.3 208.3L1703.8 205.8L1704.3 203.4L1704.8 200.9L1705.3 198.5L1705.8 196.0L1706.3 193.6L1706.8 191.1L1707.3 188.7L1707.8 186.2L1708.3 183.8L1708.8 181.3"/>
<path stroke="#0000ff" d="M333.6 1509.0L333.6 1508.3L333.7 1505.8L333.7 1503.3L333.8 1500.8L333.9 1498.3L334.0 1495.8L334.1 1493.3L334.3 1490.8L334.4 1488.3L334.6 1485.8L334.8 1483.3L335.0 1480.8L335.2 1478.4L335.4 1475.9L335.7 1473.4L335.9 1470.9L336.2 1468.4L336.5 1465.9L336.8 1464.1 M349.5 1411.8L350.1 1410.2L351.0 1407.9L352.0 1405.6L352.9 1403.3L354.0 1401.0L355.0 1398.7L356.1 1396.4L357.2 1394.2L358.3 1392.0L359.5 1389.8L360.7 1387.6L361.9 1385.4L363.2 1383.3L364.5 1381.1L365.9 1379.0L367.3 1377.0L368.7 1374.9L370.2 1372.9L370.6 1372.3 M412.1 1333.0L413.6 1331.9L415.6 1330.4L417.7 1328.9L419.7 1327.5L421.8 1326.1L423.9 1324.7L425.9 1323.3L428.0 1321.9L430.1 1320.5L432.2 1319.1L434.3 1317.7L436.4 1316.4L438.5 1315.0L440.6 1313.7L442.7 1312.3L444.8 1311.0L446.9 1309.7L449.0 1308.3L449.5 1308.0 M494.7 1281.8L496.6 1280.8L498.8 1279.6L501.0 1278.4L503.2 1277.3L505.5 1276.1L507.7 1275.0L509.9 1273.8L512.1 1272.7L514.4 1271.6L516.6 1270.4L518.8 1269.3L521.1 1268.2L523.3 1267.1L525.6 1266.0L527.8 1264.9L530.1 1263.8L532.3 1262.8L534.6 1261.7L534.9 1261.5 M586.9 1239.1L587.4 1238.9L589.7 1238.0L592.0 1237.1L594.3 1236.2L596.7 1235.3L599.0 1234.4L601.4 1233.5L603.7 1232.7L606.0 1231.8L608.4 1230.9L610.7 1230.1L613.1 1229.2L615.4 1228.4L617.8 1227.5L620.1 1226.7L622.5 1225.8L624.9 1225.0L627.2 1224.2L629.1 1223.5 M688.4 1204.4L689.1 1204.2L691.4 1203.4L693.8 1202.7L696.2 1202.0L698.6 1201.3L701.0 1200.6L703.4 1199.8L705.8 1199.1L708.2 1198.4L710.6 1197.7L713.0 1197.0L715.4 1196.3L717.8 1195.6L720.2 1194.9L722.6 1194.2L725.0 1193.5L727.4 1192.8L729.8 1192.1L731.6 1191.6 M785.2 1176.1L787.5 1175.5L789.9 1174.8L792.3 1174.1L794.7 1173.4L797.1 1172.7L799.5 1172.0L801.9 1171.3L804.3 1170.6L806.6 1169.9L809.0 1169.1L811.4 1168.4L813.8 1167.7L816.2 1167.0L818.6 1166.3L821.0 1165.6L823.4 1164.9L825.8 1164.1L828.2 1163.4L828.3 1163.4 M867.7 1151.1L868.8 1150.8L871.2 1150.0L873.5 1149.2L875.9 1148.5L878.3 1147.7L880.7 1146.9L883.1 1146.2L885.4 1145.4L887.8 1144.6L890.2 1143.8L892.5 1143.0L894.9 1142.2L897.3 1141.4L899.7 1140.6L902.0 1139.8L904.4 1139.0L906.8 1138.2L909.1 1137.4L910.4 1137.0 M961.4 1118.5L963.2 1117.8L965.5 1116.9L967.8 1116.0L970.2 1115.1L972.5 1114.2L974.8 1113.2L977.1 1112.3L979.5 1111.4L981.8 1110.5L984.1 1109.5L986.4 1108.6L988.7 1107.7L991.1 1106.7L993.4 1105.8L995.7 1104.8L998.0 1103.9L1000.3 1102.9L1002.6 1102.0L1003.1 1101.7 M1057.1 1077.5L1057.3 1077.4L1059.6 1076.3L1061.8 1075.2L1064.1 1074.1L1066.3 1073.0L1068.6 1071.9L1070.8 1070.8L1073.1 1069.7L1075.3 1068.6L1077.5 1067.4L1079.8 1066.3L1082.0 1065.2L1084.2 1064.0L1086.4 1062.9L1088.6 1061.7L1090.9 1060.5L1093.1 1059.4L1095.3 1058.2L1097.2 1057.2 M1136.6 1034.4L1138.5 1033.2L1140.7 1031.8L1142.8 1030.5L1144.9 1029.1L1146.9 1027.8L1149.0 1026.4L1151.1 1025.0L1153.2 1023.6L1155.2 1022.2L1157.3 1020.8L1159.4 1019.3L1161.4 1017.9L1163.4 1016.4L1165.5 1015.0L1167.5 1013.5L1169.5 1012.0L1171.5 1010.5L1173.5 1009.0L1173.7 1008.9 M1208.9 978.6L1209.5 978.1L1211.3 976.3L1213.1 974.6L1214.8 972.8L1216.6 971.0L1218.4 969.3L1220.1 967.5L1221.8 965.7L1223.6 963.9L1225.3 962.1L1227.0 960.2L1228.7 958.4L1230.4 956.6L1232.1 954.7L1233.8 952.9L1235.4 951.0L1237.1 949.2L1238.8 947.3L1239.9 946.0 M1274.8 903.5L1275.3 902.9L1276.8 900.9L1278.3 898.9L1279.9 896.9L1281.4 895.0L1282.9 893.0L1284.4 891.0L1286.0 889.0L1287.5 887.0L1289.0 885.0L1290.5 883.0L1292.0 881.1L1293.5 879.1L1295.0 877.1L1296.6 875.1L1298.1 873.1L1299.6 871.1L1301.1 869.1L1302.1 867.7 M1334.6 823.3L1335.1 822.7L1336.5 820.7L1338.0 818.7L1339.4 816.6L1340.9 814.6L1342.3 812.5L1343.7 810.5L1345.2 808.4L1346.6 806.4L1348.0 804.3L1349.4 802.2L1350.8 800.2L1352.2 798.1L1353.7 796.1L1355.1 794.0L1356.5 791.9L1357.9 789.8L1359.2 787.8L1360.2 786.3 M1389.7 739.9L1390.1 739.3L1391.4 737.1L1392.7 735.0L1393.9 732.8L1395.2 730.7L1396.5 728.5L1397.7 726.3L1399.0 724.2L1400.2 722.0L1401.4 719.8L1402.7 717.6L1403.9 715.5L1405.1 713.3L1406.3 711.1L1407.5 708.9L1408.7 706.7L1409.9 704.5L1411.1 702.3L1412.0 700.8 M1436.3 651.5L1436.6 650.8L1437.6 648.5L1438.6 646.2L1439.6 643.9L1440.6 641.6L1441.6 639.3L1442.6 637.0L1443.5 634.7L1444.5 632.4L1445.5 630.1L1446.4 627.8L1447.4 625.5L1448.3 623.2L1449.2 620.8L1450.1 618.5L1451.1 616.2L1452.0 613.9L1452.9 611.5L1453.5 609.9 M1472.4 558.2L1472.6 557.5L1473.4 555.2L1474.3 552.8L1475.1 550.5L1475.9 548.1L1476.7 545.7L1477.6 543.4L1478.4 541.0L1479.2 538.6L1480.0 536.3L1480.8 533.9L1481.7 531.6L1482.5 529.2L1483.3 526.8L1484.1 524.5L1484.9 522.1L1485.8 519.8L1486.6 517.4L1487.2 515.7 M1505.8 464.0L1506.1 463.3L1507.0 461.0L1507.8 458.6L1508.7 456.3L1509.6 453.9L1510.5 451.6L1511.3 449.3L1512.2 446.9L1513.1 444.6L1514.0 442.2L1514.9 439.9L1515.7 437.6L1516.6 435.2L1517.5 432.9L1518.4 430.5L1519.3 428.2L1520.1 425.9L1521.0 423.5L1521.6 421.9 M1540.7 370.3L1540.9 369.6L1541.8 367.2L1542.6 364.9L1543.5 362.5L1544.3 360.2L1545.1 357.8L1545.9 355.4L1546.8 353.1L1547.6 350.7L1548.4 348.3L1549.2 346.0L1550.0 343.6L1550.8 341.3L1551.6 338.9L1552.4 336.5L1553.2 334.1L1554.0 331.8L1554.8 329.4L1555.3 327.7 M1571.1 275.0L1571.3 274.3L1571.9 271.9L1572.6 269.5L1573.2 267.1L1573.8 264.6L1574.4 262.2L1575.0 259.8L1575.6 257.4L1576.2 254.9L1576.8 252.5L1577.3 250.1L1577.9 247.6L1578.5 245.2L1579.0 242.8L1579.5 240.3L1580.1 237.9L1580.6 235.4L1581.1 233.0L1581.4 231.3"/>
<path stroke="#ff00ff" d="M335.4 1553.8L335.1 1552.0L334.8 1549.5L334.5 1547.0L334.4 1544.5L334.3 1542.0L334.3 1539.5L334.4 1537.0L334.6 1534.5L334.9 1532.0L335.3 1529.6L335.7 1527.1L336.3 1524.7L337.0 1522.3L337.7 1519.9L338.6 1517.5L339.5 1515.2L339.8 1514.6 M368.3 1479.1L369.0 1478.5L370.9 1476.9L372.8 1475.4L374.8 1473.8L376.8 1472.3L378.8 1470.8L380.8 1469.3L382.9 1467.9L384.9 1466.4L387.0 1465.0L389.1 1463.7L391.2 1462.3L393.3 1461.0L395.4 1459.6L397.5 1458.3L399.7 1457.1L401.9 1455.8L404.0 1454.6L405.5 1453.8 M455.1 1431.9L456.6 1431.3L458.9 1430.5L461.3 1429.7L463.7 1428.9L466.1 1428.1L468.4 1427.3L470.8 1426.6L473.2 1425.8L475.6 1425.1L478.0 1424.3L480.4 1423.6L482.8 1422.9L485.2 1422.2L487.6 1421.5L490.0 1420.8L492.4 1420.1L494.8 1419.5L497.2 1418.8L498.1 1418.6 M549.1 1405.8L550.6 1405.4L553.0 1404.9L555.4 1404.3L557.9 1403.7L560.3 1403.2L562.8 1402.6L565.2 1402.1L567.6 1401.5L570.1 1401.0L572.5 1400.4L575.0 1399.9L577.4 1399.3L579.8 1398.8L582.3 1398.2L584.7 1397.7L587.2 1397.2L589.6 1396.6L592.1 1396.1L593.0 1395.9 M645.8 1385.0L646.0 1385.0L648.4 1384.5L650.9 1384.1L653.3 1383.6L655.8 1383.1L658.2 1382.6L660.7 1382.2L663.1 1381.7L665.6 1381.2L668.1 1380.8L670.5 1380.3L673.0 1379.9L675.4 1379.4L677.9 1379.0L680.4 1378.5L682.8 1378.1L685.3 1377.6L687.7 1377.2L690.0 1376.7 M740.0 1368.1L742.0 1367.8L744.4 1367.4L746.9 1367.0L749.4 1366.6L751.8 1366.2L754.3 1365.8L756.8 1365.4L759.2 1365.0L761.7 1364.6L764.2 1364.2L766.7 1363.8L769.1 1363.4L771.6 1363.0L774.1 1362.6L776.5 1362.2L779.0 1361.8L781.5 1361.4L784.0 1361.1L784.4 1361.0 M838.4 1352.9L838.4 1352.9L840.8 1352.5L843.3 1352.1L845.8 1351.8L848.3 1351.4L850.7 1351.1L853.2 1350.7L855.7 1350.4L858.2 1350.0L860.6 1349.6L863.1 1349.3L865.6 1348.9L868.1 1348.6L870.5 1348.2L873.0 1347.9L875.5 1347.5L878.0 1347.2L880.5 1346.8L882.9 1346.5 M934.6 1339.2L934.9 1339.1L937.4 1338.8L939.9 1338.4L942.4 1338.0L944.8 1337.7L947.3 1337.3L949.8 1337.0L952.3 1336.6L954.7 1336.3L957.2 1335.9L959.7 1335.5L962.2 1335.2L964.6 1334.8L967.1 1334.4L969.6 1334.1L972.1 1333.7L974.5 1333.3L977.0 1333.0L979.2 1332.6 M1031.5 1324.4L1033.8 1324.0L1036.3 1323.5L1038.8 1323.1L1041.2 1322.7L1043.7 1322.3L1046.2 1321.9L1048.6 1321.4L1051.1 1321.0L1053.5 1320.6L1056.0 1320.1L1058.5 1319.7L1060.9 1319.2L1063.4 1318.8L1065.9 1318.3L1068.3 1317.9L1070.8 1317.4L1073.2 1317.0L1075.7 1316.5L1075.8 1316.5 M1132.2 1304.8L1134.5 1304.3L1136.9 1303.8L1139.3 1303.2L1141.8 1302.6L1144.2 1302.1L1146.6 1301.5L1149.1 1300.9L1151.5 1300.3L1153.9 1299.7L1156.4 1299.1L1158.8 1298.5L1161.2 1297.9L1163.7 1297.3L1166.1 1296.7L1168.5 1296.1L1170.9 1295.5L1173.3 1294.8L1175.8 1294.2L1176.0 1294.2 M1227.5 1279.3L1228.6 1278.9L1231.0 1278.2L1233.4 1277.4L1235.8 1276.6L1238.1 1275.8L1240.5 1275.1L1242.9 1274.3L1245.3 1273.5L1247.6 1272.6L1250.0 1271.8L1252.3 1271.0L1254.7 1270.2L1257.1 1269.3L1259.4 1268.5L1261.8 1267.6L1264.1 1266.7L1266.4 1265.9L1268.8 1265.0L1270.0 1264.5 M1321.8 1241.9L1323.8 1240.9L1326.0 1239.8L1328.2 1238.7L1330.4 1237.5L1332.6 1236.3L1334.9 1235.2L1337.1 1234.0L1339.2 1232.8L1341.4 1231.6L1343.6 1230.3L1345.8 1229.1L1348.0 1227.8L1350.1 1226.6L1352.3 1225.3L1353.3 1224.7 M1379.1 1207.9L1379.5 1207.6L1381.5 1206.1L1383.6 1204.7L1385.6 1203.2L1387.6 1201.7L1389.6 1200.2L1391.6 1198.7L1393.6 1197.2L1395.6 1195.7L1397.6 1194.1L1399.5 1192.6L1401.5 1191.0L1403.4 1189.4L1405.4 1187.9L1407.3 1186.3L1409.2 1184.7L1410.7 1183.4 M1435.6 1161.4L1437.3 1159.8L1439.1 1158.1L1440.9 1156.4L1442.8 1154.7L1444.6 1152.9L1446.4 1151.2L1448.1 1149.4L1449.9 1147.7L1451.7 1145.9L1453.5 1144.2L1455.3 1142.4L1457.0 1140.6L1458.8 1138.9L1460.6 1137.1L1462.3 1135.3L1464.0 1133.5L1465.8 1131.7L1467.5 1129.9L1467.6 1129.8 M1504.5 1089.0L1506.0 1087.2L1507.6 1085.3L1509.3 1083.4L1510.9 1081.4L1512.4 1079.5L1514.0 1077.6L1515.6 1075.6L1517.2 1073.7L1518.8 1071.8L1520.3 1069.8L1521.9 1067.9L1523.5 1065.9L1525.0 1063.9L1526.6 1062.0L1528.1 1060.0L1529.7 1058.0L1531.2 1056.1L1532.7 1054.1L1532.8 1054.0 M1565.0 1009.5L1566.4 1007.4L1567.8 1005.4L1569.2 1003.3L1570.6 1001.2L1571.9 999.1L1573.3 997.0L1574.7 995.0L1576.1 992.9L1577.4 990.8L1578.8 988.7L1580.1 986.6L1581.5 984.4L1582.8 982.3L1584.2 980.2L1585.5 978.1L1586.8 976.0L1588.1 973.9L1589.4 971.7L1589.5 971.7 M1617.0 924.1L1618.2 921.9L1619.3 919.7L1620.5 917.5L1621.7 915.3L1622.9 913.1L1624.0 910.8L1625.2 908.6L1626.3 906.4L1627.5 904.2L1628.6 902.0L1629.7 899.7L1630.9 897.5L1632.0 895.3L1633.1 893.0L1634.2 890.8L1635.3 888.5L1636.4 886.3L1637.5 884.0 M1660.3 834.0L1660.3 833.9L1661.3 831.6L1662.2 829.3L1663.2 827.0L1664.1 824.7L1665.1 822.4L1666.1 820.1L1667.0 817.8L1667.9 815.5L1668.9 813.1L1669.8 810.8L1670.7 808.5L1671.7 806.2L1672.6 803.8L1673.5 801.5L1674.4 799.2L1675.3 796.9L1676.2 794.5L1677.1 792.2 M1695.8 740.5L1695.8 740.4L1696.6 738.1L1697.4 735.7L1698.2 733.3L1699.0 731.0L1699.8 728.6L1700.6 726.2L1701.4 723.8L1702.2 721.5L1703.0 719.1L1703.7 716.7L1704.5 714.3L1705.3 712.0L1706.0 709.6L1706.8 707.2L1707.6 704.8L1708.3 702.4L1709.1 700.0L1709.8 697.7 M1725.7 645.1L1725.7 645.0L1726.4 642.6L1727.1 640.2L1727.8 637.8L1728.5 635.4L1729.2 633.0L1729.8 630.5L1730.5 628.1L1731.2 625.7L1731.9 623.3L1732.6 620.9L1733.2 618.5L1733.9 616.1L1734.6 613.7L1735.3 611.3L1735.9 608.9L1736.6 606.5L1737.3 604.1L1737.9 601.8 M1752.2 548.7L1752.3 548.5L1752.9 546.1L1753.6 543.7L1754.2 541.3L1754.8 538.8L1755.5 536.4L1756.1 534.0L1756.7 531.6L1757.4 529.2L1758.0 526.8L1758.7 524.3L1759.3 521.9L1759.9 519.5L1760.6 517.1L1761.2 514.7L1761.8 512.2L1762.5 509.8L1763.1 507.4L1763.7 505.2 M1777.5 451.9L1777.5 451.7L1778.1 449.3L1778.8 446.9L1779.4 444.4L1780.0 442.0L1780.6 439.6L1781.2 437.2L1781.8 434.7L1782.4 432.3L1783.0 429.9L1783.6 427.5L1784.2 425.0L1784.8 422.6L1785.4 420.2L1786.0 417.7L1786.6 415.3L1787.2 412.9L1787.8 410.4L1788.3 408.3 M1800.8 354.7L1800.9 354.4L1801.4 352.0L1801.9 349.5L1802.5 347.1L1803.0 344.7L1803.5 342.2L1804.1 339.8L1804.6 337.3L1805.1 334.9L1805.6 332.4L1806.2 330.0L1806.7 327.5L1807.2 325.1L1807.7 322.6L1808.2 320.2L1808.7 317.7L1809.2 315.3L1809.7 312.8L1810.1 310.7 M1820.2 256.6L1820.2 256.3L1820.7 253.8L1821.1 251.3L1821.5 248.9L1821.9 246.4L1822.3 243.9L1822.7 241.5L1823.1 239.0L1823.5 236.5L1823.9 234.1L1824.2 231.6L1824.6 229.1L1825.0 226.6L1825.4 224.2L1825.7 221.7L1826.1 219.2L1826.4 216.7L1826.8 214.3L1827.1 212.1"/>
<path stroke="#ff0000" d="M332.6 1555.9L332.3 1554.4L331.9 1551.9L331.6 1549.5L331.2 1547.0L331.0 1544.5L330.7 1542.0L330.6 1539.5L330.4 1537.0L330.3 1534.5L330.3 1532.0L330.3 1529.5L330.4 1527.0L330.5 1524.5L330.6 1522.0L330.8 1519.5L331.1 1517.0L331.4 1514.5L331.7 1512.1 M346.5 1467.9L346.9 1467.2L348.1 1465.0L349.3 1462.8L350.6 1460.7L351.9 1458.5L353.2 1456.4L354.6 1454.3L356.0 1452.2L357.4 1450.2L358.8 1448.1L360.3 1446.1L361.8 1444.1L363.4 1442.2L364.9 1440.2L366.5 1438.3L368.2 1436.4L369.8 1434.5L371.5 1432.6L372.6 1431.4 M412.6 1397.3L413.2 1396.9L415.3 1395.5L417.3 1394.1L419.4 1392.7L421.5 1391.4L423.7 1390.0L425.8 1388.7L427.9 1387.4L430.1 1386.1L432.2 1384.8L434.4 1383.6L436.5 1382.3L438.7 1381.1L440.9 1379.9L443.1 1378.7L445.3 1377.5L447.5 1376.3L449.7 1375.1L451.3 1374.3 M503.7 1350.8L504.5 1350.5L506.8 1349.6L509.1 1348.6L511.5 1347.7L513.8 1346.8L516.1 1345.9L518.5 1345.0L520.8 1344.1L523.1 1343.2L525.5 1342.4L527.8 1341.5L530.2 1340.6L532.5 1339.7L534.9 1338.9L537.2 1338.0L539.6 1337.1L541.9 1336.3L544.3 1335.4L545.8 1334.9 M598.6 1316.8L598.7 1316.7L601.1 1315.9L603.5 1315.2L605.9 1314.4L608.2 1313.6L610.6 1312.9L613.0 1312.1L615.4 1311.4L617.8 1310.6L620.2 1309.9L622.6 1309.1L624.9 1308.4L627.3 1307.7L629.7 1306.9L632.1 1306.2L634.5 1305.5L636.9 1304.7L639.3 1304.0L641.5 1303.4 M695.2 1288.2L697.1 1287.7L699.5 1287.1L702.0 1286.4L704.4 1285.8L706.8 1285.2L709.2 1284.6L711.7 1283.9L714.1 1283.3L716.5 1282.7L718.9 1282.1L721.4 1281.5L723.8 1280.9L726.2 1280.3L728.7 1279.7L731.1 1279.1L733.5 1278.5L735.9 1277.9L738.4 1277.3L738.8 1277.2 M784.2 1266.7L784.7 1266.5L787.1 1266.0L789.6 1265.4L792.0 1264.9L794.5 1264.4L796.9 1263.8L799.4 1263.3L801.8 1262.7L804.2 1262.2L806.7 1261.7L809.1 1261.1L811.6 1260.6L814.0 1260.1L816.5 1259.5L818.9 1259.0L821.4 1258.5L823.8 1257.9L826.3 1257.4L828.1 1257.0 M878.6 1246.1L880.1 1245.7L882.5 1245.2L885.0 1244.7L887.4 1244.1L889.8 1243.6L892.3 1243.0L894.7 1242.5L897.2 1242.0L899.6 1241.4L902.1 1240.9L904.5 1240.3L906.9 1239.8L909.4 1239.2L911.8 1238.7L914.3 1238.1L916.7 1237.6L919.2 1237.0L921.6 1236.5L922.5 1236.3 M974.9 1223.7L975.1 1223.7L977.6 1223.0L980.0 1222.4L982.4 1221.8L984.8 1221.2L987.3 1220.6L989.7 1219.9L992.1 1219.3L994.5 1218.7L996.9 1218.0L999.4 1217.4L1001.8 1216.7L1004.2 1216.1L1006.6 1215.4L1009.0 1214.8L1011.4 1214.1L1013.9 1213.4L1016.3 1212.8L1018.4 1212.2 M1069.8 1196.6L1071.4 1196.1L1073.7 1195.3L1076.1 1194.5L1078.5 1193.7L1080.9 1192.9L1083.2 1192.1L1085.6 1191.3L1088.0 1190.5L1090.3 1189.7L1092.7 1188.8L1095.1 1188.0L1097.4 1187.2L1099.8 1186.3L1102.1 1185.5L1104.5 1184.6L1106.8 1183.8L1109.2 1182.9L1111.5 1182.0L1112.2 1181.8 M1165.7 1159.8L1167.1 1159.2L1169.3 1158.1L1171.6 1157.1L1173.9 1156.0L1176.1 1155.0L1178.4 1153.9L1180.7 1152.8L1182.9 1151.8L1185.2 1150.7L1187.4 1149.6L1189.7 1148.5L1191.9 1147.4L1194.2 1146.2L1196.4 1145.1L1198.6 1144.0L1200.8 1142.8L1203.1 1141.7L1205.3 1140.5L1206.2 1140.1 M1243.7 1118.8L1244.5 1118.3L1246.6 1117.0L1248.7 1115.6L1250.8 1114.3L1252.9 1113.0L1255.0 1111.6L1257.1 1110.3L1259.2 1108.9L1261.3 1107.5L1263.4 1106.1L1265.5 1104.7L1267.6 1103.3L1269.6 1101.9L1271.7 1100.5L1273.7 1099.1L1275.8 1097.6L1277.8 1096.2L1279.9 1094.7L1281.1 1093.8 M1291.4 1086.2L1291.9 1085.8L1293.9 1084.3L1295.9 1082.8L1297.9 1081.2L1299.9 1079.7L1301.8 1078.1L1303.8 1076.5L1305.7 1075.0L1307.7 1073.4L1309.6 1071.8L1311.5 1070.2L1313.4 1068.6L1315.3 1067.0L1317.2 1065.3L1319.1 1063.7L1321.0 1062.1L1322.9 1060.4L1324.8 1058.7L1326.1 1057.6 M1358.0 1026.0L1358.6 1025.3L1360.3 1023.5L1362.0 1021.6L1363.6 1019.8L1365.3 1017.9L1367.0 1016.0L1368.6 1014.2L1370.3 1012.3L1371.9 1010.4L1373.6 1008.5L1375.2 1006.6L1376.8 1004.7L1378.4 1002.8L1380.0 1000.9L1381.6 998.9L1383.2 997.0L1384.8 995.1L1386.4 993.1L1387.4 991.9 M1421.0 948.4L1421.6 947.6L1423.1 945.6L1424.6 943.6L1426.1 941.6L1427.6 939.6L1429.0 937.5L1430.5 935.5L1432.0 933.5L1433.5 931.5L1434.9 929.4L1436.4 927.4L1437.9 925.4L1439.3 923.3L1440.8 921.3L1442.2 919.3L1443.6 917.2L1445.1 915.2L1446.5 913.1L1447.3 912.0 M1477.7 866.1L1478.3 865.1L1479.6 863.0L1480.9 860.9L1482.2 858.7L1483.5 856.6L1484.8 854.4L1486.1 852.3L1487.4 850.2L1488.7 848.0L1489.9 845.8L1491.2 843.7L1492.5 841.5L1493.7 839.3L1495.0 837.2L1496.2 835.0L1497.4 832.8L1498.7 830.6L1499.9 828.5L1500.5 827.3 M1525.8 778.5L1526.4 777.4L1527.4 775.1L1528.5 772.8L1529.6 770.6L1530.7 768.3L1531.7 766.1L1532.8 763.8L1533.8 761.5L1534.9 759.2L1535.9 757.0L1537.0 754.7L1538.0 752.4L1539.0 750.1L1540.1 747.8L1541.1 745.6L1542.1 743.3L1543.1 741.0L1544.1 738.7L1544.6 737.6 M1565.6 686.8L1566.1 685.5L1567.0 683.2L1567.9 680.8L1568.8 678.5L1569.7 676.2L1570.6 673.8L1571.5 671.5L1572.4 669.1L1573.2 666.8L1574.1 664.5L1575.0 662.1L1575.9 659.8L1576.8 657.4L1577.6 655.1L1578.5 652.7L1579.3 650.4L1580.2 648.0L1581.1 645.7L1581.4 644.7 M1599.5 592.7L1600.0 591.3L1600.8 588.9L1601.6 586.6L1602.4 584.2L1603.2 581.8L1604.0 579.5L1604.8 577.1L1605.6 574.7L1606.4 572.3L1607.1 569.9L1607.9 567.6L1608.7 565.2L1609.5 562.8L1610.3 560.4L1611.0 558.1L1611.8 555.7L1612.6 553.3L1613.4 550.9L1613.7 550.0 M1630.4 497.6L1630.9 496.1L1631.6 493.7L1632.4 491.3L1633.1 488.9L1633.9 486.5L1634.6 484.1L1635.4 481.8L1636.1 479.4L1636.9 477.0L1637.6 474.6L1638.4 472.2L1639.1 469.8L1639.8 467.4L1640.6 465.0L1641.3 462.6L1642.1 460.2L1642.8 457.8L1643.5 455.5L1643.8 454.6 M1659.4 401.9L1659.9 400.3L1660.6 397.9L1661.3 395.5L1662.0 393.0L1662.6 390.6L1663.3 388.2L1664.0 385.8L1664.7 383.4L1665.4 381.0L1666.0 378.6L1666.7 376.2L1667.4 373.8L1668.0 371.4L1668.7 368.9L1669.3 366.5L1670.0 364.1L1670.7 361.7L1671.3 359.3L1671.5 358.6 M1685.1 305.3L1685.5 303.5L1686.1 301.1L1686.7 298.6L1687.3 296.2L1687.8 293.8L1688.4 291.3L1689.0 288.9L1689.5 286.4L1690.1 284.0L1690.7 281.6L1691.2 279.1L1691.8 276.7L1692.3 274.2L1692.8 271.8L1693.4 269.4L1693.9 266.9L1694.4 264.5L1695.0 262.0L1695.1 261.4 M1705.7 207.4L1706.0 205.5L1706.4 203.1L1706.9 200.6L1707.3 198.1L1707.7 195.7L1708.1 193.2L1708.5 190.7L1708.9 188.2L1709.3 185.8L1709.7 183.3L1710.1 180.8"/>
<path stroke="#00ff00" d="M351.7 1472.9L352.2 1471.5L353.3 1469.3L354.5 1467.1L356.0 1465.0L357.5 1463.1L359.2 1461.2L360.9 1459.4L362.7 1457.6L364.5 1455.9L366.4 1454.3L368.2 1452.6L370.1 1450.9L372.0 1449.3L373.9 1447.7L375.9 1446.1L377.8 1444.6L379.8 1443.0L381.8 1441.5L382.6 1440.9 M424.5 1414.8L426.3 1413.8L428.6 1412.7L430.8 1411.6L433.1 1410.5L435.3 1409.4L437.6 1408.4L439.9 1407.3L442.1 1406.3L444.4 1405.3L446.7 1404.3L449.0 1403.3L451.3 1402.3L453.6 1401.4L455.9 1400.4L458.2 1399.5L460.6 1398.5L462.9 1397.6L465.2 1396.7L465.6 1396.6 M521.7 1377.9L522.2 1377.8L524.6 1377.1L527.0 1376.4L529.4 1375.7L531.8 1375.0L534.2 1374.3L536.6 1373.6L539.0 1372.9L541.4 1372.2L543.8 1371.5L546.2 1370.9L548.6 1370.2L551.0 1369.5L553.4 1368.9L555.8 1368.2L558.3 1367.5L560.7 1366.9L563.1 1366.2L565.0 1365.7 M614.7 1353.3L616.5 1352.9L618.9 1352.3L621.3 1351.8L623.8 1351.2L626.2 1350.7L628.6 1350.1L631.1 1349.6L633.5 1349.0L636.0 1348.5L638.4 1347.9L640.8 1347.4L643.3 1346.9L645.7 1346.3L648.2 1345.8L650.6 1345.3L653.1 1344.7L655.5 1344.2L658.0 1343.7L658.7 1343.6 M712.2 1332.9L714.4 1332.5L716.8 1332.1L719.3 1331.6L721.8 1331.2L724.2 1330.7L726.7 1330.3L729.1 1329.8L731.6 1329.4L734.1 1329.0L736.5 1328.5L739.0 1328.1L741.5 1327.6L743.9 1327.2L746.4 1326.8L748.8 1326.4L751.3 1325.9L753.8 1325.5L756.2 1325.1L756.5 1325.0 M810.2 1316.2L810.5 1316.1L813.0 1315.8L815.5 1315.4L817.9 1315.0L820.4 1314.6L822.9 1314.2L825.3 1313.8L827.8 1313.4L830.3 1313.0L832.8 1312.6L835.2 1312.2L837.7 1311.8L840.2 1311.5L842.6 1311.1L845.1 1310.7L847.6 1310.3L850.1 1309.9L852.5 1309.5L854.6 1309.2 M907.8 1300.8L909.3 1300.5L911.8 1300.1L914.3 1299.7L916.7 1299.3L919.2 1298.9L921.7 1298.5L924.1 1298.1L926.6 1297.7L929.1 1297.3L931.5 1296.9L934.0 1296.5L936.5 1296.0L938.9 1295.6L941.4 1295.2L943.9 1294.8L946.3 1294.4L948.8 1294.0L951.3 1293.5L952.2 1293.4 M1005.2 1283.8L1005.4 1283.7L1007.9 1283.3L1010.3 1282.8L1012.8 1282.3L1015.2 1281.8L1017.7 1281.3L1020.1 1280.8L1022.6 1280.4L1025.0 1279.9L1027.5 1279.4L1029.9 1278.9L1032.4 1278.4L1034.8 1277.9L1037.3 1277.3L1039.7 1276.8L1042.2 1276.3L1044.6 1275.8L1047.1 1275.3L1049.3 1274.8 M1101.5 1262.6L1103.1 1262.2L1105.5 1261.5L1107.9 1260.9L1110.3 1260.3L1112.8 1259.6L1115.2 1259.0L1117.6 1258.4L1120.0 1257.7L1122.4 1257.0L1124.8 1256.4L1127.2 1255.7L1129.6 1255.0L1132.0 1254.4L1134.5 1253.7L1136.9 1253.0L1139.3 1252.3L1141.7 1251.6L1144.1 1250.9L1144.9 1250.6 M1197.9 1233.1L1198.7 1232.8L1201.0 1232.0L1203.4 1231.1L1205.7 1230.2L1208.0 1229.3L1210.4 1228.4L1212.7 1227.5L1215.0 1226.6L1217.4 1225.7L1219.7 1224.8L1222.0 1223.8L1224.3 1222.9L1226.6 1221.9L1228.9 1221.0L1231.2 1220.0L1233.5 1219.0L1235.8 1218.1L1238.1 1217.1L1239.7 1216.4 M1281.1 1196.6L1283.2 1195.5L1285.4 1194.3L1287.6 1193.1L1289.8 1191.9L1292.0 1190.7L1294.2 1189.5L1296.4 1188.3L1298.6 1187.0L1300.7 1185.8L1302.9 1184.5L1305.1 1183.3L1307.2 1182.0L1309.4 1180.7L1311.5 1179.4L1313.7 1178.1L1315.8 1176.8L1317.9 1175.5L1320.0 1174.2L1320.0 1174.2 M1349.5 1154.1L1351.0 1153.0L1353.0 1151.5L1355.0 1150.1L1357.0 1148.5L1359.0 1147.0L1361.0 1145.5L1363.0 1144.0L1364.9 1142.4L1366.9 1140.9L1368.9 1139.3L1370.8 1137.8L1372.7 1136.2L1374.7 1134.6L1376.6 1133.0L1378.5 1131.4L1380.4 1129.8L1382.4 1128.2L1384.3 1126.6L1384.8 1126.1 M1420.8 1092.7L1420.9 1092.6L1422.7 1090.8L1424.5 1089.0L1426.2 1087.2L1428.0 1085.4L1429.7 1083.7L1431.4 1081.9L1433.2 1080.0L1434.9 1078.2L1436.6 1076.4L1438.3 1074.6L1440.0 1072.8L1441.7 1070.9L1443.4 1069.1L1445.1 1067.2L1446.8 1065.4L1448.5 1063.5L1450.1 1061.7L1451.6 1060.0 M1486.8 1017.7L1487.0 1017.5L1488.5 1015.5L1490.0 1013.6L1491.5 1011.6L1493.1 1009.6L1494.6 1007.6L1496.1 1005.6L1497.6 1003.6L1499.1 1001.6L1500.6 999.6L1502.1 997.6L1503.5 995.6L1505.0 993.5L1506.5 991.5L1507.9 989.5L1509.4 987.5L1510.9 985.4L1512.3 983.4L1513.6 981.6 M1543.9 935.7L1544.1 935.5L1545.4 933.3L1546.7 931.2L1548.0 929.1L1549.3 926.9L1550.6 924.8L1551.9 922.7L1553.2 920.5L1554.5 918.4L1555.8 916.2L1557.0 914.1L1558.3 911.9L1559.6 909.7L1560.8 907.6L1562.1 905.4L1563.3 903.3L1564.6 901.1L1565.8 898.9L1566.9 897.0 M1592.7 848.4L1592.9 848.2L1594.0 845.9L1595.1 843.7L1596.2 841.4L1597.3 839.2L1598.4 837.0L1599.5 834.7L1600.6 832.5L1601.7 830.2L1602.8 827.9L1603.9 825.7L1604.9 823.4L1606.0 821.2L1607.1 818.9L1608.1 816.6L1609.2 814.4L1610.2 812.1L1611.3 809.8L1612.2 807.9 M1634.1 757.4L1634.2 757.1L1635.1 754.8L1636.1 752.5L1637.0 750.1L1638.0 747.8L1638.9 745.5L1639.8 743.2L1640.7 740.9L1641.7 738.5L1642.6 736.2L1643.5 733.9L1644.4 731.5L1645.3 729.2L1646.2 726.9L1647.1 724.5L1648.0 722.2L1648.9 719.9L1649.8 717.5L1650.5 715.5 M1669.1 663.8L1669.3 663.4L1670.1 661.1L1670.9 658.7L1671.7 656.3L1672.5 653.9L1673.3 651.6L1674.1 649.2L1674.9 646.8L1675.7 644.5L1676.4 642.1L1677.2 639.7L1678.0 637.3L1678.8 635.0L1679.5 632.6L1680.3 630.2L1681.1 627.8L1681.8 625.4L1682.6 623.1L1683.2 621.1 M1699.3 568.4L1699.4 568.0L1700.1 565.6L1700.8 563.2L1701.5 560.8L1702.2 558.4L1702.9 556.0L1703.6 553.6L1704.3 551.2L1704.9 548.8L1705.6 546.4L1706.3 544.0L1707.0 541.6L1707.7 539.2L1708.3 536.8L1709.0 534.4L1709.7 532.0L1710.4 529.6L1711.0 527.2L1711.6 525.2 M1726.0 472.1L1726.1 471.6L1726.8 469.2L1727.4 466.8L1728.1 464.4L1728.7 462.0L1729.4 459.6L1730.0 457.1L1730.6 454.7L1731.3 452.3L1731.9 449.9L1732.6 447.5L1733.2 445.1L1733.8 442.6L1734.5 440.2L1735.1 437.8L1735.8 435.4L1736.4 433.0L1737.1 430.6L1737.6 428.6 M1751.8 375.5L1751.9 375.0L1752.6 372.6L1753.2 370.2L1753.9 367.8L1754.5 365.3L1755.2 362.9L1755.9 360.5L1756.5 358.1L1757.2 355.7L1757.8 353.3L1758.5 350.9L1759.2 348.5L1759.8 346.0L1760.5 343.6L1761.2 341.2L1761.8 338.8L1762.5 336.4L1763.2 334.0L1763.7 332.1 M1777.5 278.8L1777.6 278.3L1778.1 275.9L1778.7 273.4L1779.2 271.0L1779.8 268.6L1780.3 266.1L1780.8 263.7L1781.3 261.2L1781.9 258.8L1782.3 256.3L1782.8 253.9L1783.3 251.4L1783.8 249.0L1784.2 246.5L1784.7 244.0L1785.1 241.6L1785.5 239.1L1785.9 236.6L1786.2 234.7 M1791.6 180.0L1791.6 179.4L1791.6 176.9"/>
<path stroke="#000000" d="M340.6 1560.0L340.8 1559.4L341.7 1557.0L342.6 1554.7L343.6 1552.4L344.5 1550.1L345.6 1547.8L346.7 1545.6L347.8 1543.3L349.0 1541.1L350.2 1539.0L351.5 1536.8L352.9 1534.7L354.4 1532.7L355.9 1530.7L357.6 1528.8L359.2 1527.1 M408.0 1503.6L408.5 1503.5L410.9 1502.7L413.3 1501.9L415.6 1501.1L418.0 1500.4L420.4 1499.6L422.8 1498.9L425.2 1498.1L427.6 1497.4L429.9 1496.6L432.3 1495.9L434.7 1495.1L437.1 1494.4L439.5 1493.7L441.9 1493.0L444.3 1492.2L446.7 1491.5L449.1 1490.8L451.0 1490.3 M505.7 1475.5L507.1 1475.1L509.5 1474.5L511.9 1473.9L514.4 1473.3L516.8 1472.7L519.2 1472.1L521.7 1471.5L524.1 1471.0L526.5 1470.4L529.0 1469.8L531.4 1469.2L533.8 1468.6L536.3 1468.1L538.7 1467.5L541.1 1466.9L543.6 1466.3L546.0 1465.8L548.5 1465.2L549.4 1465.0 M600.1 1453.9L602.2 1453.5L604.7 1453.0L607.1 1452.4L609.6 1451.9L612.0 1451.4L614.5 1450.9L616.9 1450.4L619.4 1449.9L621.9 1449.4L624.3 1449.0L626.8 1448.5L629.2 1448.0L631.7 1447.5L634.1 1447.0L636.6 1446.5L639.0 1446.0L641.5 1445.6L644.0 1445.1L644.2 1445.0 M699.0 1434.8L700.5 1434.5L703.0 1434.1L705.5 1433.7L707.9 1433.2L710.4 1432.8L712.9 1432.3L715.3 1431.9L717.8 1431.5L720.3 1431.0L722.7 1430.6L725.2 1430.2L727.6 1429.8L730.1 1429.3L732.6 1428.9L735.0 1428.5L737.5 1428.1L740.0 1427.6L742.4 1427.2L743.3 1427.1 M797.3 1418.1L799.2 1417.8L801.7 1417.4L804.2 1417.0L806.6 1416.6L809.1 1416.2L811.6 1415.8L814.0 1415.4L816.5 1415.0L819.0 1414.6L821.5 1414.2L823.9 1413.8L826.4 1413.4L828.9 1413.0L831.3 1412.6L833.8 1412.2L836.3 1411.8L838.8 1411.4L841.2 1411.0L841.7 1410.9 M897.1 1402.1L898.1 1402.0L900.5 1401.6L903.0 1401.2L905.5 1400.8L908.0 1400.4L910.4 1400.0L912.9 1399.6L915.4 1399.2L917.8 1398.8L920.3 1398.4L922.8 1398.0L925.3 1397.6L927.7 1397.2L930.2 1396.9L932.7 1396.5L935.1 1396.1L937.6 1395.7L940.1 1395.3L941.5 1395.0 M996.7 1386.0L996.9 1385.9L999.4 1385.5L1001.8 1385.1L1004.3 1384.7L1006.8 1384.3L1009.2 1383.9L1011.7 1383.4L1014.2 1383.0L1016.6 1382.6L1019.1 1382.2L1021.6 1381.8L1024.0 1381.3L1026.5 1380.9L1029.0 1380.5L1031.4 1380.0L1033.9 1379.6L1036.4 1379.2L1038.8 1378.8L1041.1 1378.4 M1092.7 1369.0L1093.0 1368.9L1095.4 1368.5L1097.9 1368.0L1100.4 1367.5L1102.8 1367.1L1105.3 1366.6L1107.7 1366.1L1110.2 1365.6L1112.7 1365.2L1115.1 1364.7L1117.6 1364.2L1120.0 1363.7L1122.5 1363.3L1124.9 1362.8L1127.4 1362.3L1129.8 1361.8L1132.3 1361.3L1134.7 1360.8L1136.8 1360.4 M1188.9 1349.1L1191.0 1348.6L1193.4 1348.0L1195.9 1347.4L1198.3 1346.9L1200.7 1346.3L1203.2 1345.7L1205.6 1345.1L1208.0 1344.5L1210.4 1343.9L1212.9 1343.2L1215.3 1342.6L1217.7 1342.0L1220.1 1341.4L1222.6 1340.7L1225.0 1340.1L1227.4 1339.4L1229.8 1338.8L1232.2 1338.1L1232.5 1338.1 M1282.7 1322.8L1284.9 1322.0L1287.2 1321.2L1289.6 1320.4L1292.0 1319.5L1294.3 1318.7L1296.7 1317.9L1299.0 1317.0L1301.4 1316.1L1303.7 1315.3L1306.1 1314.4L1308.4 1313.5L1310.7 1312.6L1313.1 1311.7L1315.4 1310.8L1317.7 1309.8L1320.0 1308.9L1322.4 1308.0L1324.7 1307.0L1324.8 1307.0 M1374.7 1283.5L1376.7 1282.5L1378.9 1281.3L1381.1 1280.1L1383.3 1278.9L1385.5 1277.6L1387.6 1276.4L1389.8 1275.2L1392.0 1273.9L1394.1 1272.6L1396.3 1271.4L1398.4 1270.1L1400.6 1268.8L1402.7 1267.5L1404.8 1266.1L1407.0 1264.8L1409.1 1263.5L1411.2 1262.1L1413.3 1260.7L1415.4 1259.4L1417.4 1258.0L1419.5 1256.6L1421.6 1255.2L1423.6 1253.7L1425.7 1252.3L1427.7 1250.9L1429.8 1249.4L1431.8 1248.0L1433.9 1246.5L1434.0 1246.4 M1467.4 1220.1L1469.2 1218.6L1471.1 1217.0L1473.0 1215.3L1474.9 1213.7L1476.8 1212.0L1478.6 1210.4L1480.5 1208.7L1482.3 1207.0L1484.2 1205.3L1486.0 1203.7L1487.9 1202.0L1489.7 1200.3L1491.5 1198.5L1493.4 1196.8L1495.2 1195.1L1497.0 1193.4L1498.8 1191.6L1500.6 1189.9L1500.6 1189.8 M1538.5 1149.9L1540.1 1148.1L1541.8 1146.2L1543.4 1144.3L1545.0 1142.4L1546.6 1140.5L1548.3 1138.6L1549.9 1136.7L1551.5 1134.7L1553.1 1132.8L1554.7 1130.9L1556.3 1129.0L1557.8 1127.0L1559.4 1125.1L1561.0 1123.1L1562.6 1121.2L1564.1 1119.2L1565.7 1117.2L1567.2 1115.3 M1599.5 1070.8L1599.6 1070.7L1601.0 1068.7L1602.3 1066.6L1603.7 1064.5L1605.1 1062.4L1606.5 1060.3L1607.9 1058.2L1609.2 1056.1L1610.6 1054.0L1611.9 1051.9L1613.3 1049.8L1614.6 1047.7L1615.9 1045.6L1617.2 1043.4L1618.6 1041.3L1619.9 1039.2L1621.2 1037.0L1622.5 1034.9L1623.7 1032.9 M1650.5 984.9L1650.6 984.7L1651.8 982.5L1652.9 980.3L1654.0 978.0L1655.2 975.8L1656.3 973.6L1657.4 971.3L1658.5 969.1L1659.7 966.8L1660.8 964.6L1661.9 962.3L1663.0 960.1L1664.0 957.8L1665.1 955.6L1666.2 953.3L1667.3 951.1L1668.3 948.8L1669.4 946.5L1670.4 944.5 M1692.2 894.0L1692.3 893.8L1693.3 891.4L1694.2 889.1L1695.1 886.8L1696.1 884.5L1697.0 882.1L1697.9 879.8L1698.8 877.5L1699.7 875.1L1700.6 872.8L1701.5 870.5L1702.4 868.1L1703.3 865.8L1704.2 863.4L1705.1 861.1L1705.9 858.8L1706.8 856.4L1707.7 854.1L1708.4 852.0 M1726.4 800.0L1726.5 799.7L1727.2 797.3L1728.0 794.9L1728.8 792.5L1729.5 790.1L1730.3 787.8L1731.1 785.4L1731.8 783.0L1732.6 780.6L1733.3 778.2L1734.0 775.8L1734.8 773.4L1735.5 771.0L1736.2 768.6L1737.0 766.2L1737.7 763.8L1738.4 761.5L1739.1 759.1L1739.7 757.1 M1754.8 704.2L1754.9 703.7L1755.6 701.3L1756.3 698.9L1756.9 696.5L1757.6 694.0L1758.2 691.6L1758.8 689.2L1759.5 686.8L1760.1 684.4L1760.8 682.0L1761.4 679.5L1762.0 677.1L1762.7 674.7L1763.3 672.3L1763.9 669.8L1764.6 667.4L1765.2 665.0L1765.8 662.6L1766.3 660.7 M1779.6 607.3L1779.8 606.7L1780.4 604.3L1780.9 601.9L1781.5 599.4L1782.1 597.0L1782.7 594.6L1783.3 592.1L1783.9 589.7L1784.5 587.3L1785.0 584.8L1785.6 582.4L1786.2 580.0L1786.8 577.5L1787.4 575.1L1787.9 572.7L1788.5 570.2L1789.1 567.8L1789.7 565.4L1790.1 563.6 M1802.6 510.0L1802.7 509.3L1803.3 506.9L1803.9 504.4L1804.4 502.0L1805.0 499.5L1805.5 497.1L1806.1 494.7L1806.6 492.2L1807.2 489.8L1807.7 487.3L1808.3 484.9L1808.8 482.5L1809.4 480.0L1809.9 477.6L1810.4 475.1L1811.0 472.7L1811.5 470.2L1812.1 467.8L1812.4 466.1 M1824.0 412.3L1824.1 411.5L1824.6 409.1L1825.1 406.6L1825.7 404.2L1826.2 401.7L1826.7 399.3L1827.2 396.8L1827.7 394.4L1828.2 391.9L1828.7 389.5L1829.1 387.0L1829.6 384.5L1830.1 382.1L1830.6 379.6L1831.1 377.2L1831.6 374.7L1832.1 372.3L1832.6 369.8L1832.9 368.2 M1843.1 314.1L1843.3 313.3L1843.7 310.8L1844.1 308.3L1844.6 305.9L1845.0 303.4L1845.5 300.9L1845.9 298.5L1846.3 296.0L1846.8 293.5L1847.2 291.1L1847.6 288.6L1848.0 286.2L1848.5 283.7L1848.9 281.2L1849.3 278.8L1849.7 276.3L1850.1 273.8L1850.6 271.3L1850.8 269.8 M1859.4 215.5L1859.5 214.5L1859.9 212.0L1860.2 209.5L1860.6 207.1L1861.0 204.6L1861.3 202.1L1861.7 199.6L1862.0 197.2L1862.4 194.7L1862.7 192.2L1863.1 189.7L1863.4 187.2L1863.7 184.8L1864.1 182.3L1864.4 179.8L1864.7 177.3L1865.1 174.8L1865.4 172.4L1865.6 170.9"/>
</g>
<g>
<rect x="351.5" y="39.5" width="1111.5" height="907" fill="#fff" stroke="#000" stroke-width="9"/>
<path d="M363 99.0H524" stroke="#000" stroke-width="11.8"/>
<text x="541.7" y="121.8" font-family="Liberation Serif, serif" font-size="70">Tested</text>
<text transform="translate(746.8,121.8) scale(1.000,0.880)" font-family="Noto Serif CJK SC, serif" font-style="italic" font-size="70">σ</text>
<text transform="translate(796.2,125.15) scale(1.109,1.2)" font-family="Liberation Serif, serif" font-size="70">–</text>
<text transform="translate(828.9,121.8) scale(1.000,0.830)" font-family="Noto Serif CJK SC, serif" font-style="italic" font-size="70">ε</text>
<text x="875.9" y="121.8" font-family="Liberation Serif, serif" font-size="70">curve</text>
<text x="1051.6" y="121.8" font-family="Liberation Serif, serif" font-size="70">(</text>
<text transform="translate(1072.9,123.0) scale(1.070,0.915)" font-family="Noto Serif CJK SC, serif" font-style="italic" font-size="70">ρ</text>
<text transform="translate(1111.6,125.96) scale(1.125,0.918)" font-family="Liberation Serif, serif" font-size="70">=</text>
<text x="1154.2" y="121.8" font-family="Liberation Serif, serif" font-size="70">80kg/m</text>
<text x="1367.3" y="94.8" font-family="Liberation Serif, serif" font-size="46">3</text>
<text x="1394.4" y="121.8" font-family="Liberation Serif, serif" font-size="70">)</text>
<path d="M363 187.6H408M465 187.6H510" stroke="#000" stroke-width="11.8"/>
<text x="557.5" y="210.4" font-family="Liberation Serif, serif" font-size="70">Fitted</text>
<text transform="translate(723.5,210.4) scale(1.000,0.880)" font-family="Noto Serif CJK SC, serif" font-style="italic" font-size="70">σ</text>
<text transform="translate(773.0,213.75) scale(1.109,1.2)" font-family="Liberation Serif, serif" font-size="70">–</text>
<text transform="translate(805.6,210.4) scale(1.000,0.830)" font-family="Noto Serif CJK SC, serif" font-style="italic" font-size="70">ε</text>
<text x="852.7" y="210.4" font-family="Liberation Serif, serif" font-size="70">curve</text>
<text x="1028.4" y="210.4" font-family="Liberation Serif, serif" font-size="70">(</text>
<text transform="translate(1049.7,211.6) scale(1.070,0.915)" font-family="Noto Serif CJK SC, serif" font-style="italic" font-size="70">ρ</text>
<text transform="translate(1088.3,214.56) scale(1.125,0.918)" font-family="Liberation Serif, serif" font-size="70">=</text>
<text x="1131.0" y="210.4" font-family="Liberation Serif, serif" font-size="70">80kg/m</text>
<text x="1344.0" y="183.4" font-family="Liberation Serif, serif" font-size="46">3</text>
<text x="1371.2" y="210.4" font-family="Liberation Serif, serif" font-size="70">)</text>
<path d="M363 276.2H524" stroke="#f0f" stroke-width="11.8"/>
<text x="541.7" y="299.0" font-family="Liberation Serif, serif" font-size="70">Tested</text>
<text transform="translate(746.8,299.0) scale(1.000,0.880)" font-family="Noto Serif CJK SC, serif" font-style="italic" font-size="70">σ</text>
<text transform="translate(796.2,302.35) scale(1.109,1.2)" font-family="Liberation Serif, serif" font-size="70">–</text>
<text transform="translate(828.9,299.0) scale(1.000,0.830)" font-family="Noto Serif CJK SC, serif" font-style="italic" font-size="70">ε</text>
<text x="875.9" y="299.0" font-family="Liberation Serif, serif" font-size="70">curve</text>
<text x="1051.6" y="299.0" font-family="Liberation Serif, serif" font-size="70">(</text>
<text transform="translate(1072.9,300.2) scale(1.070,0.915)" font-family="Noto Serif CJK SC, serif" font-style="italic" font-size="70">ρ</text>
<text transform="translate(1111.6,303.16) scale(1.125,0.918)" font-family="Liberation Serif, serif" font-size="70">=</text>
<text x="1154.2" y="299.0" font-family="Liberation Serif, serif" font-size="70">95kg/m</text>
<text x="1367.3" y="272.0" font-family="Liberation Serif, serif" font-size="46">3</text>
<text x="1394.4" y="299.0" font-family="Liberation Serif, serif" font-size="70">)</text>
<path d="M363 364.8H408M465 364.8H510" stroke="#f0f" stroke-width="11.8"/>
<text x="540.0" y="387.6" font-family="Liberation Serif, serif" font-size="70">Fitted</text>
<text transform="translate(723.5,387.6) scale(1.000,0.880)" font-family="Noto Serif CJK SC, serif" font-style="italic" font-size="70">σ</text>
<text transform="translate(773.0,390.95) scale(1.109,1.2)" font-family="Liberation Serif, serif" font-size="70">–</text>
<text transform="translate(805.6,387.6) scale(1.000,0.830)" font-family="Noto Serif CJK SC, serif" font-style="italic" font-size="70">ε</text>
<text x="852.7" y="387.6" font-family="Liberation Serif, serif" font-size="70">curve</text>
<text x="1028.4" y="387.6" font-family="Liberation Serif, serif" font-size="70">(</text>
<text transform="translate(1049.7,388.8) scale(1.070,0.915)" font-family="Noto Serif CJK SC, serif" font-style="italic" font-size="70">ρ</text>
<text transform="translate(1088.3,391.76) scale(1.125,0.918)" font-family="Liberation Serif, serif" font-size="70">=</text>
<text x="1131.0" y="387.6" font-family="Liberation Serif, serif" font-size="70">95kg/m</text>
<text x="1344.0" y="360.6" font-family="Liberation Serif, serif" font-size="46">3</text>
<text x="1371.2" y="387.6" font-family="Liberation Serif, serif" font-size="70">)</text>
<path d="M363 453.4H524" stroke="#0f0" stroke-width="11.8"/>
<text x="541.7" y="476.2" font-family="Liberation Serif, serif" font-size="70">Tested</text>
<text transform="translate(746.8,476.2) scale(1.000,0.880)" font-family="Noto Serif CJK SC, serif" font-style="italic" font-size="70">σ</text>
<text transform="translate(796.2,479.55) scale(1.109,1.2)" font-family="Liberation Serif, serif" font-size="70">–</text>
<text transform="translate(828.9,476.2) scale(1.000,0.830)" font-family="Noto Serif CJK SC, serif" font-style="italic" font-size="70">ε</text>
<text x="875.9" y="476.2" font-family="Liberation Serif, serif" font-size="70">curve</text>
<text x="1051.6" y="476.2" font-family="Liberation Serif, serif" font-size="70">(</text>
<text transform="translate(1072.9,477.4) scale(1.070,0.915)" font-family="Noto Serif CJK SC, serif" font-style="italic" font-size="70">ρ</text>
<text transform="translate(1111.6,480.36) scale(1.125,0.918)" font-family="Liberation Serif, serif" font-size="70">=</text>
<text x="1154.2" y="476.2" font-family="Liberation Serif, serif" font-size="70">106kg/m</text>
<text x="1402.3" y="449.2" font-family="Liberation Serif, serif" font-size="46">3</text>
<text x="1429.4" y="476.2" font-family="Liberation Serif, serif" font-size="70">)</text>
<path d="M363 542.0H408M465 542.0H510" stroke="#0f0" stroke-width="11.8"/>
<text x="540.0" y="564.8" font-family="Liberation Serif, serif" font-size="70">Fitted</text>
<text transform="translate(723.5,564.8) scale(1.000,0.880)" font-family="Noto Serif CJK SC, serif" font-style="italic" font-size="70">σ</text>
<text transform="translate(773.0,568.15) scale(1.109,1.2)" font-family="Liberation Serif, serif" font-size="70">–</text>
<text transform="translate(805.6,564.8) scale(1.000,0.830)" font-family="Noto Serif CJK SC, serif" font-style="italic" font-size="70">ε</text>
<text x="852.7" y="564.8" font-family="Liberation Serif, serif" font-size="70">curve</text>
<text x="1028.4" y="564.8" font-family="Liberation Serif, serif" font-size="70">(</text>
<text transform="translate(1049.7,566.0) scale(1.070,0.915)" font-family="Noto Serif CJK SC, serif" font-style="italic" font-size="70">ρ</text>
<text transform="translate(1088.3,568.96) scale(1.125,0.918)" font-family="Liberation Serif, serif" font-size="70">=</text>
<text x="1131.0" y="564.8" font-family="Liberation Serif, serif" font-size="70">106kg/m</text>
<text x="1379.0" y="537.8" font-family="Liberation Serif, serif" font-size="46">3</text>
<text x="1406.2" y="564.8" font-family="Liberation Serif, serif" font-size="70">)</text>
<path d="M363 630.6H524" stroke="#f00" stroke-width="11.8"/>
<text x="541.7" y="653.4" font-family="Liberation Serif, serif" font-size="70">Tested</text>
<text transform="translate(729.3,653.4) scale(1.000,0.880)" font-family="Noto Serif CJK SC, serif" font-style="italic" font-size="70">σ</text>
<text transform="translate(778.7,656.75) scale(1.109,1.2)" font-family="Liberation Serif, serif" font-size="70">–</text>
<text transform="translate(811.4,653.4) scale(1.000,0.830)" font-family="Noto Serif CJK SC, serif" font-style="italic" font-size="70">ε</text>
<text x="858.4" y="653.4" font-family="Liberation Serif, serif" font-size="70">curve</text>
<text x="1034.1" y="653.4" font-family="Liberation Serif, serif" font-size="70">(</text>
<text transform="translate(1055.4,654.6) scale(1.070,0.915)" font-family="Noto Serif CJK SC, serif" font-style="italic" font-size="70">ρ</text>
<text transform="translate(1094.1,657.56) scale(1.125,0.918)" font-family="Liberation Serif, serif" font-size="70">=</text>
<text x="1136.7" y="653.4" font-family="Liberation Serif, serif" font-size="70">124kg/m</text>
<text x="1384.8" y="626.4" font-family="Liberation Serif, serif" font-size="46">3</text>
<text x="1411.9" y="653.4" font-family="Liberation Serif, serif" font-size="70">)</text>
<path d="M363 719.2H408M465 719.2H510" stroke="#f00" stroke-width="11.8"/>
<text x="540.0" y="742.0" font-family="Liberation Serif, serif" font-size="70">Fitted</text>
<text transform="translate(723.5,742.0) scale(1.000,0.880)" font-family="Noto Serif CJK SC, serif" font-style="italic" font-size="70">σ</text>
<text transform="translate(773.0,745.35) scale(1.109,1.2)" font-family="Liberation Serif, serif" font-size="70">–</text>
<text transform="translate(805.6,742.0) scale(1.000,0.830)" font-family="Noto Serif CJK SC, serif" font-style="italic" font-size="70">ε</text>
<text x="852.7" y="742.0" font-family="Liberation Serif, serif" font-size="70">curve</text>
<text x="1028.4" y="742.0" font-family="Liberation Serif, serif" font-size="70">(</text>
<text transform="translate(1049.7,743.2) scale(1.070,0.915)" font-family="Noto Serif CJK SC, serif" font-style="italic" font-size="70">ρ</text>
<text transform="translate(1088.3,746.16) scale(1.125,0.918)" font-family="Liberation Serif, serif" font-size="70">=</text>
<text x="1131.0" y="742.0" font-family="Liberation Serif, serif" font-size="70">124kg/m</text>
<text x="1379.0" y="715.0" font-family="Liberation Serif, serif" font-size="46">3</text>
<text x="1406.2" y="742.0" font-family="Liberation Serif, serif" font-size="70">)</text>
<path d="M363 807.8H524" stroke="#00f" stroke-width="11.8"/>
<text x="541.7" y="830.6" font-family="Liberation Serif, serif" font-size="70">Tested</text>
<text transform="translate(729.3,830.6) scale(1.000,0.880)" font-family="Noto Serif CJK SC, serif" font-style="italic" font-size="70">σ</text>
<text transform="translate(778.7,833.95) scale(1.109,1.2)" font-family="Liberation Serif, serif" font-size="70">–</text>
<text transform="translate(811.4,830.6) scale(1.000,0.830)" font-family="Noto Serif CJK SC, serif" font-style="italic" font-size="70">ε</text>
<text x="858.4" y="830.6" font-family="Liberation Serif, serif" font-size="70">curve</text>
<text x="1034.1" y="830.6" font-family="Liberation Serif, serif" font-size="70">(</text>
<text transform="translate(1055.4,831.8) scale(1.070,0.915)" font-family="Noto Serif CJK SC, serif" font-style="italic" font-size="70">ρ</text>
<text transform="translate(1094.1,834.76) scale(1.125,0.918)" font-family="Liberation Serif, serif" font-size="70">=</text>
<text x="1136.7" y="830.6" font-family="Liberation Serif, serif" font-size="70">180kg/m</text>
<text x="1384.8" y="803.6" font-family="Liberation Serif, serif" font-size="46">3</text>
<text x="1411.9" y="830.6" font-family="Liberation Serif, serif" font-size="70">)</text>
<path d="M363 896.4H408M465 896.4H510" stroke="#00f" stroke-width="11.8"/>
<text x="540.0" y="919.2" font-family="Liberation Serif, serif" font-size="70">Fitted</text>
<text transform="translate(723.5,919.2) scale(1.000,0.880)" font-family="Noto Serif CJK SC, serif" font-style="italic" font-size="70">σ</text>
<text transform="translate(773.0,922.55) scale(1.109,1.2)" font-family="Liberation Serif, serif" font-size="70">–</text>
<text transform="translate(805.6,919.2) scale(1.000,0.830)" font-family="Noto Serif CJK SC, serif" font-style="italic" font-size="70">ε</text>
<text x="852.7" y="919.2" font-family="Liberation Serif, serif" font-size="70">curve</text>
<text x="1028.4" y="919.2" font-family="Liberation Serif, serif" font-size="70">(</text>
<text transform="translate(1049.7,920.4) scale(1.070,0.915)" font-family="Noto Serif CJK SC, serif" font-style="italic" font-size="70">ρ</text>
<text transform="translate(1088.3,923.36) scale(1.125,0.918)" font-family="Liberation Serif, serif" font-size="70">=</text>
<text x="1131.0" y="919.2" font-family="Liberation Serif, serif" font-size="70">180kg/m</text>
<text x="1379.0" y="892.2" font-family="Liberation Serif, serif" font-size="46">3</text>
<text x="1406.2" y="919.2" font-family="Liberation Serif, serif" font-size="70">)</text>
</g>
<g font-family="Liberation Serif, serif" font-size="91">
<text x="261" y="1580.3" text-anchor="end">0.0</text>
<text x="261" y="1376.2" text-anchor="end">0.2</text>
<text x="261" y="1172.2" text-anchor="end">0.4</text>
<text x="261" y="968.1" text-anchor="end">0.6</text>
<text x="261" y="764.0" text-anchor="end">0.8</text>
<text x="261" y="559.9" text-anchor="end">1.0</text>
<text x="261" y="355.9" text-anchor="end">1.2</text>
<text x="261" y="151.8" text-anchor="end">1.4</text>
<text x="330.5" y="1694" text-anchor="middle">0.0</text>
<text x="506.9" y="1694" text-anchor="middle">0.1</text>
<text x="683.4" y="1694" text-anchor="middle">0.2</text>
<text x="859.8" y="1694" text-anchor="middle">0.3</text>
<text x="1036.3" y="1694" text-anchor="middle">0.4</text>
<text x="1212.7" y="1694" text-anchor="middle">0.5</text>
<text x="1389.1" y="1694" text-anchor="middle">0.6</text>
<text x="1565.6" y="1694" text-anchor="middle">0.7</text>
<text x="1742.0" y="1694" text-anchor="middle">0.8</text>
<text x="1918.5" y="1694" text-anchor="middle">0.9</text>
</g>
<g transform="translate(90.2,700.8) rotate(-90)">
<text transform="translate(-11.3,3.5) scale(1.0,0.92)" font-family="Noto Serif CJK SC, serif" font-style="italic" font-size="110">σ</text>
<text x="84" y="0" font-family="Liberation Serif, serif" font-size="110">(MPa)</text>
</g>
<text transform="translate(1419,1800) scale(0.965,0.93)" font-family="Noto Serif CJK SC, serif" font-style="italic" font-size="108">ε</text>
</svg></body></html>
